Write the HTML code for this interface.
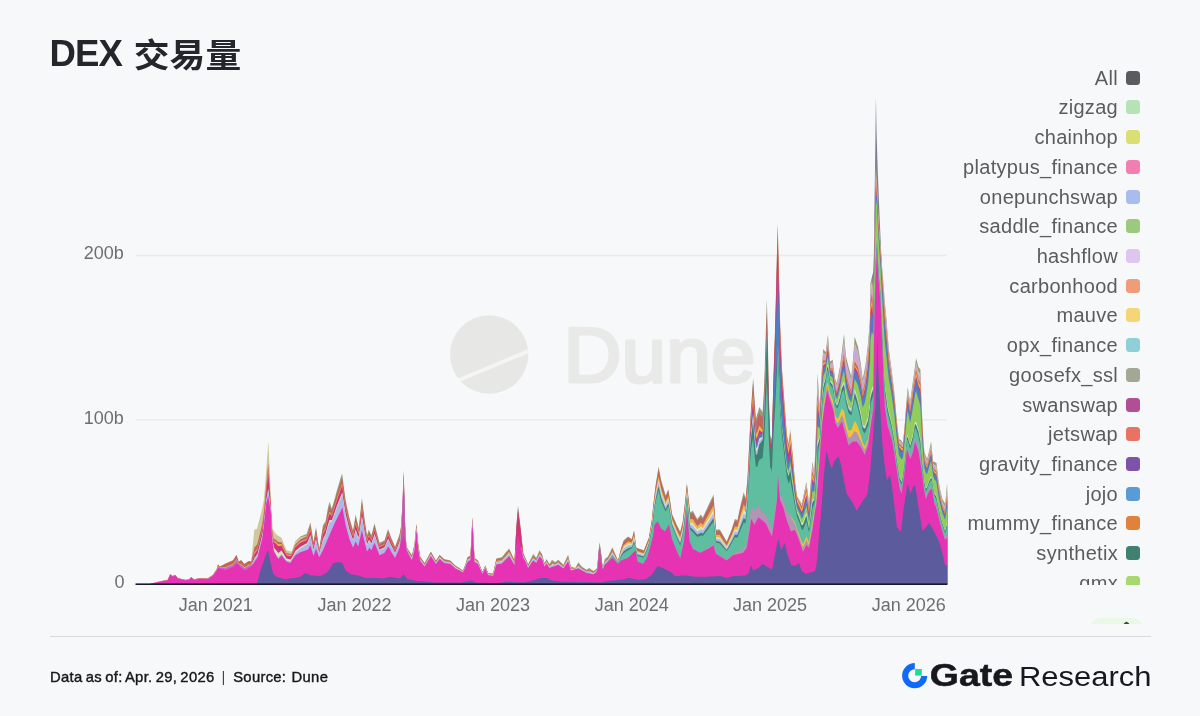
<!DOCTYPE html>
<html lang="zh"><head><meta charset="utf-8"><title>DEX 交易量</title>
<style>
html,body{margin:0;padding:0}
body{width:1200px;height:716px;background:#F7F8FA;position:relative;overflow:hidden;font-family:"Liberation Sans","Noto Sans CJK SC",sans-serif}
.title{position:absolute;left:0;top:0;font-weight:700;color:#24262B;white-space:nowrap}
.tl{position:absolute;left:49.6px;top:33.9px;font-size:36.6px;line-height:40px;letter-spacing:-0.9px}
.tc{position:absolute;left:133.8px;top:34.5px;font-size:35.8px;line-height:40px;letter-spacing:0;display:block;transform:scaleY(0.925);transform-origin:0 35.5px}
svg.chart{position:absolute;left:0;top:0}
.ax{font-family:"Liberation Sans",sans-serif;font-size:18px;fill:#6E6E6E}
.legend{position:absolute;left:940px;top:0;width:220px;height:584.5px;overflow:hidden}
.lg{position:absolute;right:20px;height:30px;line-height:30px;white-space:nowrap;display:flex;align-items:center}
.lt{font-size:20px;color:#5C5C5E;letter-spacing:0.3px}
.sq{display:inline-block;width:14px;height:14px;border-radius:3.5px;margin-left:8px}
.sep{position:absolute;left:50px;top:636.2px;width:1100.5px;height:1.2px;background:#D9DADC}
.foot{position:absolute;top:666.5px;font-size:14.8px;line-height:20px;color:#17181A;white-space:pre;-webkit-text-stroke:0.4px #17181A;letter-spacing:0.3px;word-spacing:-1.2px}
.foot.bar{color:#444;-webkit-text-stroke:0}
.pill{position:absolute;left:1087.5px;top:618.4px;width:57.5px;height:6px;overflow:hidden}
.pill i{position:absolute;left:0;top:0;width:57.5px;height:30px;border-radius:14px;background:#EAF8E6;display:block}
.pill b{position:absolute;left:36.5px;top:3.6px;width:5px;height:5px;border-radius:2px;background:#3A4A3A;display:block;transform:rotate(45deg)}
</style></head><body>
<div class="title"><span class="tl">DEX </span><span class="tc">交易量</span></div>
<svg class="chart" width="1200" height="716" viewBox="0 0 1200 716">
<g>
<defs><clipPath id="dc"><circle cx="489.2" cy="354.5" r="39.4"/></clipPath></defs>
<circle cx="489.2" cy="354.5" r="39.2" fill="#E7E7E6"/>
<line x1="450" y1="383.7" x2="535" y2="348.4" stroke="#F5F5F6" stroke-width="3.8" clip-path="url(#dc)"/>
<text x="563.5" y="382" font-family="Liberation Sans, sans-serif" font-size="77" fill="#E9E9E8" stroke="#E9E9E8" stroke-width="3" stroke-linejoin="round" textLength="192" lengthAdjust="spacingAndGlyphs">Dune</text>
</g>
<rect x="136" y="254.7" width="811" height="1.6" fill="#EAEBEC"/>
<rect x="136" y="419.0" width="811" height="1.6" fill="#EAEBEC"/>
<text x="123.8" y="259" text-anchor="end" class="ax">200b</text>
<text x="123.8" y="423.8" text-anchor="end" class="ax">100b</text>
<text x="124.5" y="588.3" text-anchor="end" class="ax">0</text>
<text x="215.8" y="611" text-anchor="middle" class="ax">Jan 2021</text>
<text x="354.5" y="611" text-anchor="middle" class="ax">Jan 2022</text>
<text x="493" y="611" text-anchor="middle" class="ax">Jan 2023</text>
<text x="631.7" y="611" text-anchor="middle" class="ax">Jan 2024</text>
<text x="770" y="611" text-anchor="middle" class="ax">Jan 2025</text>
<text x="908.7" y="611" text-anchor="middle" class="ax">Jan 2026</text>
<g shape-rendering="geometricPrecision">
<path d="M872.0,584.2 L872.0,276.7 L872.1,276.3 L873.2,272.0 L873.5,264.7 L873.9,255.0 L874.0,245.0 L874.1,235.0 L874.3,215.0 L874.6,195.7 L875.0,170.0 L875.5,130.0 L875.9,96.7 L876.0,102.3 L876.5,130.0 L877.0,146.7 L877.3,156.7 L877.7,170.0 L878.3,185.0 L878.4,187.5 L878.5,190.0 L879.5,215.0 L880.2,230.6 L880.6,239.4 L881.3,255.0 L882.0,264.9 L882.0,584.2Z" fill="#827C92"/>
<path d="M295.0,584.2 L295.0,542.3 L295.3,541.5 L300.3,536.5 L305.4,534.5 L306.6,534.0 L307.9,530.1 L310.0,523.8 L310.4,522.6 L313.5,541.5 L316.0,527.0 L319.2,549.0 L320.4,541.5 L323.0,525.1 L325.5,521.4 L326.7,514.7 L328.0,507.5 L329.2,502.9 L329.5,501.7 L330.5,504.7 L331.8,508.5 L333.0,504.4 L334.3,500.0 L335.5,495.6 L337.0,490.0 L338.0,486.7 L340.0,480.0 L340.6,478.1 L342.1,473.4 L342.4,475.7 L344.0,488.0 L345.6,500.0 L349.4,517.6 L350.6,521.7 L353.1,530.2 L355.6,514.5 L358.2,525.2 L358.8,527.7 L361.9,497.9 L364.5,518.0 L365.1,522.6 L365.7,526.6 L367.0,535.2 L368.9,529.5 L369.5,530.9 L371.4,535.2 L374.5,523.3 L375.8,528.4 L379.5,542.8 L383.3,540.9 L384.6,540.2 L388.0,528.9 L388.3,529.7 L390.0,534.2 L391.3,537.7 L395.1,546.5 L399.5,534.6 L400.0,531.9 L401.3,525.0 L402.0,511.5 L402.0,584.2Z M405.0,584.2 L405.0,520.0 L405.1,525.0 L405.5,531.6 L406.4,546.5 L407.6,548.4 L410.0,552.2 L412.0,555.3 L414.5,544.0 L416.4,523.3 L417.7,537.5 L418.3,544.0 L420.2,556.6 L424.6,562.9 L430.9,551.6 L435.3,559.3 L435.9,560.4 L439.7,554.7 L444.1,559.1 L450.4,560.4 L455.4,565.4 L460.4,568.7 L463.0,570.4 L465.5,564.1 L467.4,557.2 L470.5,555.3 L471.8,528.9 L472.4,516.7 L474.5,557.8 L476.8,559.5 L478.0,560.4 L482.4,571.7 L485.3,565.4 L488.1,572.9 L493.1,573.6 L496.3,558.5 L498.2,558.1 L501.9,557.2 L505.7,552.6 L509.2,548.4 L514.0,559.3 L514.5,560.4 L516.4,525.0 L518.0,505.4 L520.8,529.0 L523.3,552.8 L525.0,556.6 L528.1,564.1 L532.5,555.5 L533.2,554.1 L536.3,557.8 L539.5,550.3 L540.1,551.2 L542.0,554.0 L544.5,562.9 L546.4,559.5 L546.6,559.1 L549.5,564.1 L551.4,560.8 L552.0,559.7 L555.2,562.2 L558.3,559.7 L562.7,564.1 L563.4,564.8 L568.1,554.7 L570.9,566.6 L575.3,567.9 L578.4,562.2 L581.6,566.6 L586.6,569.8 L589.1,567.9 L593.5,571.0 L596.0,569.0 L597.3,567.9 L598.0,558.4 L598.6,550.3 L599.6,542.1 L600.4,547.8 L601.1,552.8 L601.5,556.6 L602.7,567.9 L604.0,562.5 L604.8,559.1 L608.0,556.6 L610.5,551.3 L612.4,547.2 L618.0,560.4 L620.0,552.5 L620.6,550.2 L621.2,547.8 L623.7,540.2 L628.1,536.5 L629.4,537.4 L631.9,539.0 L633.1,534.0 L634.0,530.2 L635.6,542.4 L636.3,547.8 L637.5,548.1 L638.2,548.3 L638.8,548.4 L643.2,550.1 L643.8,550.3 L645.0,547.3 L646.3,544.0 L647.0,542.2 L648.8,537.7 L650.0,530.4 L651.3,522.5 L651.9,518.9 L653.2,505.0 L653.3,504.2 L654.4,495.0 L655.1,489.2 L655.7,484.2 L657.6,472.7 L658.0,470.2 L658.6,466.6 L661.3,480.4 L663.9,489.3 L665.1,493.4 L665.7,495.5 L668.3,489.2 L668.9,493.0 L670.1,500.6 L670.8,505.0 L672.0,513.8 L675.2,521.1 L676.4,523.9 L680.2,531.4 L682.7,521.4 L684.0,510.3 L685.2,500.0 L686.9,482.9 L687.1,484.7 L688.8,500.0 L689.6,506.7 L690.0,510.1 L690.3,512.6 L692.8,510.7 L695.3,515.4 L697.2,518.9 L700.3,515.3 L701.0,514.5 L702.8,517.6 L707.9,506.4 L709.1,503.8 L712.9,496.0 L713.5,494.2 L714.8,512.6 L716.0,529.5 L719.8,529.5 L720.4,530.5 L726.7,541.5 L731.8,528.9 L733.0,525.0 L734.9,518.9 L737.4,520.1 L740.6,505.0 L743.1,494.8 L743.7,492.3 L745.0,496.2 L745.6,498.0 L746.8,485.3 L747.5,477.9 L748.7,454.0 L749.4,440.1 L750.0,427.6 L750.6,415.0 L751.0,409.0 L751.2,406.1 L753.1,377.8 L754.4,396.8 L755.9,418.8 L757.5,413.3 L758.2,410.9 L759.3,407.1 L761.9,411.0 L762.6,412.0 L764.3,383.6 L765.7,335.3 L766.0,325.0 L766.8,298.8 L767.6,325.0 L768.8,392.0 L769.5,413.8 L770.2,435.6 L771.0,437.2 L771.8,438.9 L772.0,431.4 L773.5,375.0 L774.5,345.6 L775.1,327.9 L775.2,325.0 L777.0,252.4 L777.7,224.2 L777.7,584.2Z M800.0,584.2 L800.0,500.8 L801.7,504.0 L803.0,497.9 L805.7,485.1 L806.4,481.8 L809.0,503.2 L809.1,504.0 L812.4,461.6 L814.4,472.4 L815.0,456.3 L815.1,453.6 L815.8,434.8 L816.0,428.3 L816.5,412.0 L817.1,389.0 L817.5,373.7 L819.1,397.0 L819.8,407.2 L821.8,369.6 L822.0,366.6 L823.2,348.9 L823.8,349.7 L824.0,350.0 L825.6,352.2 L826.5,345.4 L827.1,340.9 L827.9,334.8 L829.2,350.6 L830.0,360.4 L830.1,361.6 L831.9,360.2 L832.6,359.6 L833.8,368.6 L833.9,369.3 L835.2,379.0 L836.8,383.1 L837.9,377.4 L838.6,373.8 L839.9,367.0 L841.3,355.7 L841.9,350.9 L844.0,334.1 L845.3,348.5 L846.0,356.2 L846.6,358.7 L848.6,367.0 L851.3,376.4 L852.7,362.9 L854.7,336.8 L855.0,337.7 L856.7,342.9 L858.0,346.8 L860.7,362.9 L862.1,374.2 L862.7,379.0 L864.7,369.1 L865.4,365.6 L867.4,348.7 L868.1,342.8 L870.1,316.0 L870.4,283.0 L871.4,279.1 L872.0,276.7 L872.1,277.9 L873.2,291.1 L873.5,289.5 L873.9,276.6 L874.0,266.9 L874.1,259.5 L874.3,245.0 L874.6,231.8 L875.0,211.2 L875.5,180.8 L875.9,159.1 L876.0,162.6 L876.5,175.2 L877.0,181.3 L877.3,189.2 L877.7,199.8 L878.3,212.5 L878.4,214.6 L878.5,216.2 L879.5,230.9 L880.2,240.9 L880.6,247.0 L881.3,258.9 L882.0,264.9 L882.2,267.8 L882.4,270.6 L883.3,281.7 L883.9,289.6 L884.2,293.5 L884.9,302.7 L885.0,304.0 L886.6,320.0 L886.9,324.3 L887.3,330.0 L887.5,332.4 L888.9,349.5 L890.2,359.2 L891.6,369.6 L892.2,374.6 L894.2,391.1 L896.9,421.4 L898.9,438.8 L899.6,439.3 L900.0,439.5 L901.0,440.2 L901.6,441.0 L903.0,442.9 L904.3,428.9 L905.0,421.4 L905.6,412.0 L907.0,395.4 L907.7,387.1 L910.1,401.8 L910.3,400.3 L913.0,380.4 L915.0,366.1 L916.1,358.2 L917.7,364.3 L918.4,367.0 L920.4,369.6 L921.7,408.0 L922.4,421.4 L923.1,434.8 L923.8,444.2 L924.4,452.3 L925.8,455.8 L926.4,457.3 L927.1,459.0 L929.1,450.9 L931.1,441.5 L931.8,448.5 L933.1,461.6 L934.5,462.1 L935.2,462.3 L936.0,462.7 L936.5,463.0 L938.5,480.4 L939.2,484.2 L940.5,491.2 L941.0,493.2 L942.5,499.2 L945.0,503.6 L945.2,504.0 L947.0,484.4 L947.2,484.4 L947.2,584.2Z" fill="#9A9A7C"/>
<path d="M250.0,584.2 L250.0,561.1 L251.3,561.0 L251.9,554.0 L252.5,548.1 L253.0,543.2 L254.4,529.5 L256.9,528.9 L257.6,526.3 L260.1,517.0 L261.3,512.6 L262.0,509.2 L262.6,506.3 L263.9,500.0 L265.5,480.0 L266.4,468.0 L267.0,460.0 L267.9,447.1 L268.0,445.6 L268.3,441.3 L269.5,465.0 L270.1,480.0 L270.5,490.0 L270.8,496.0 L271.5,510.0 L272.0,517.9 L272.7,528.9 L273.3,529.8 L273.9,530.7 L276.0,534.0 L276.4,534.6 L277.7,535.4 L278.3,535.8 L281.5,537.7 L285.2,547.0 L286.5,550.3 L290.3,551.3 L291.5,551.6 L295.0,542.3 L295.3,541.5 L300.3,537.2 L305.4,535.9 L306.6,535.6 L307.9,532.3 L310.0,526.7 L310.0,584.2Z M777.7,584.2 L777.7,224.2 L778.0,236.3 L778.3,248.4 L780.0,316.9 L780.2,325.0 L781.4,354.6 L781.9,366.9 L783.3,385.7 L784.4,400.4 L784.6,403.1 L786.9,433.9 L787.1,434.9 L787.7,437.9 L788.6,442.3 L790.0,430.5 L790.3,428.0 L790.9,434.4 L791.5,440.8 L791.9,445.0 L792.7,452.7 L795.0,480.4 L797.0,495.2 L799.0,498.9 L800.0,500.8 L801.7,504.2 L803.0,498.4 L805.7,486.2 L806.4,483.1 L809.0,504.4 L809.1,505.2 L812.4,464.3 L814.4,474.4 L815.0,458.9 L815.1,456.3 L815.8,438.4 L816.0,432.2 L816.5,416.6 L817.1,394.4 L817.5,379.6 L819.1,400.6 L819.8,409.8 L821.8,372.8 L822.0,369.8 L823.2,352.6 L823.8,353.1 L824.0,353.3 L825.6,354.9 L826.5,348.1 L827.1,343.7 L827.9,338.1 L829.2,353.4 L830.0,362.7 L830.1,363.9 L831.9,362.9 L832.6,362.5 L833.8,371.1 L833.9,371.9 L835.2,381.6 L836.8,385.6 L837.9,380.4 L838.6,376.9 L839.9,370.4 L841.3,359.7 L841.9,355.0 L844.0,339.7 L845.3,353.5 L846.0,360.9 L846.6,363.4 L848.6,371.6 L851.3,380.3 L852.7,367.5 L854.7,343.0 L855.0,343.8 L856.7,348.4 L858.0,352.0 L860.7,367.0 L862.1,377.7 L862.7,382.3 L864.7,372.7 L865.4,369.2 L867.4,352.4 L868.1,346.6 L870.1,319.8 L870.4,287.8 L871.4,283.5 L872.0,280.9 L872.1,282.3 L873.2,296.5 L873.5,295.5 L873.9,281.0 L874.0,271.2 L874.1,264.1 L874.3,250.4 L874.6,237.8 L875.0,217.7 L875.5,188.3 L875.9,167.8 L876.0,171.0 L876.5,181.7 L877.0,186.4 L877.3,194.2 L877.7,204.5 L878.3,217.1 L878.4,219.2 L878.5,220.7 L879.5,234.3 L880.2,243.6 L880.6,249.4 L881.3,261.2 L882.0,267.2 L882.2,270.1 L882.4,273.0 L883.3,284.5 L883.9,292.6 L884.2,296.6 L884.9,305.8 L885.0,307.1 L886.6,323.0 L886.9,327.2 L887.3,332.8 L887.5,335.2 L888.9,351.9 L890.2,361.4 L891.6,371.7 L892.2,376.6 L894.2,392.9 L896.9,422.9 L898.9,440.2 L899.6,440.7 L900.0,441.0 L901.0,441.8 L901.6,442.7 L903.0,444.3 L904.3,430.5 L905.0,423.1 L905.6,413.8 L907.0,397.4 L907.7,389.6 L910.1,404.1 L910.3,402.7 L913.0,383.5 L915.0,369.5 L916.1,362.3 L917.7,368.4 L918.4,371.2 L920.4,374.4 L921.7,411.3 L922.4,424.4 L923.1,437.4 L923.8,446.7 L924.4,454.5 L925.8,458.3 L926.4,459.6 L927.1,461.2 L929.1,453.4 L931.1,444.5 L931.8,451.1 L933.1,463.8 L934.5,464.9 L935.2,465.2 L936.0,465.7 L936.5,466.2 L938.5,483.0 L939.2,486.7 L940.5,493.7 L941.0,495.7 L942.5,501.7 L945.0,506.5 L945.2,506.8 L947.0,488.7 L947.2,488.7 L947.2,584.2Z" fill="#D0C89C"/>
<path d="M800.0,584.2 L800.0,502.8 L801.7,506.3 L803.0,500.8 L805.7,488.8 L806.4,485.6 L809.0,506.1 L809.1,506.9 L812.4,466.6 L814.4,475.8 L815.0,460.6 L815.1,458.1 L815.8,440.6 L816.0,434.6 L816.5,419.4 L817.1,397.5 L817.5,383.0 L819.1,402.6 L819.8,411.2 L821.8,374.3 L822.0,371.4 L823.2,354.2 L823.8,354.6 L824.0,354.7 L825.6,356.0 L826.5,349.2 L827.1,344.7 L827.9,339.4 L829.2,354.3 L830.0,363.5 L830.1,364.6 L831.9,363.8 L832.6,363.4 L833.8,372.0 L833.9,372.7 L835.2,382.4 L836.8,386.5 L837.9,381.4 L838.6,377.9 L839.9,371.5 L841.3,361.0 L841.9,356.4 L844.0,341.5 L845.3,355.1 L846.0,362.5 L846.6,364.9 L848.6,373.2 L851.3,381.6 L852.7,369.1 L854.7,345.0 L855.0,345.8 L856.7,350.4 L858.0,354.1 L860.7,369.0 L862.1,379.5 L862.7,384.0 L864.7,374.9 L865.4,371.5 L867.4,355.1 L868.1,349.4 L870.1,323.1 L870.4,292.0 L871.4,287.7 L872.0,285.2 L872.1,286.4 L873.2,300.0 L873.5,298.9 L873.9,283.3 L874.0,273.4 L874.1,266.3 L874.3,252.8 L874.6,240.2 L875.0,220.3 L875.5,191.3 L875.9,171.3 L876.0,174.4 L876.5,184.3 L877.0,188.5 L877.3,196.2 L877.7,206.4 L878.3,218.9 L878.4,221.0 L878.5,222.5 L879.5,236.0 L880.2,245.4 L880.6,251.1 L881.3,263.1 L882.0,269.4 L882.2,272.4 L882.4,275.4 L883.3,287.2 L883.9,295.5 L884.2,299.5 L884.9,308.8 L885.0,310.1 L886.6,325.7 L886.9,329.8 L887.3,335.4 L887.5,337.7 L888.9,354.0 L890.2,363.3 L891.6,373.4 L892.2,378.2 L894.2,394.4 L896.9,424.0 L898.9,441.1 L899.6,441.7 L900.0,442.0 L901.0,442.9 L901.6,443.8 L903.0,445.1 L904.3,431.5 L905.0,424.1 L905.6,415.0 L907.0,398.7 L907.7,391.1 L910.1,405.5 L910.3,404.2 L913.0,385.4 L915.0,371.5 L916.1,364.6 L917.7,370.8 L918.4,373.5 L920.4,377.1 L921.7,413.2 L922.4,426.0 L923.1,438.8 L923.8,448.0 L924.4,455.7 L925.8,459.6 L926.4,460.9 L927.1,462.3 L929.1,454.7 L931.1,446.1 L931.8,452.4 L933.1,465.0 L934.5,466.3 L935.2,466.7 L936.0,467.3 L936.5,467.8 L938.5,484.3 L939.2,488.0 L940.5,494.9 L941.0,496.9 L942.5,502.9 L945.0,507.9 L945.2,508.2 L947.0,490.8 L947.2,490.8 L947.2,584.2Z" fill="#C3A8E0"/>
<path d="M800.0,584.2 L800.0,502.8 L801.7,506.5 L803.0,501.2 L805.7,489.6 L806.4,486.7 L809.0,507.1 L809.1,507.9 L812.4,468.7 L814.4,477.3 L815.0,462.7 L815.1,460.3 L815.8,443.5 L816.0,437.7 L816.5,423.1 L817.1,401.9 L817.5,387.7 L819.1,405.5 L819.8,413.3 L821.8,376.9 L822.0,374.0 L823.2,357.3 L823.8,357.4 L824.0,357.5 L825.6,358.2 L826.5,351.5 L827.1,347.1 L827.9,342.1 L829.2,356.6 L830.0,365.4 L830.1,366.5 L831.9,366.2 L832.6,366.1 L833.8,374.5 L833.9,375.2 L835.2,385.1 L836.8,389.2 L837.9,384.8 L838.6,381.6 L839.9,375.7 L841.3,366.0 L841.9,361.9 L844.0,349.3 L845.3,362.4 L846.0,369.4 L846.6,371.9 L848.6,380.5 L851.3,388.2 L852.7,377.1 L854.7,356.2 L855.0,357.0 L856.7,360.3 L858.0,363.1 L860.7,375.8 L862.1,385.2 L862.7,389.3 L864.7,380.3 L865.4,376.7 L867.4,360.2 L868.1,354.3 L870.1,327.6 L870.4,297.4 L871.4,292.4 L872.0,289.4 L872.1,290.6 L873.2,303.5 L873.5,302.4 L873.9,285.5 L874.0,275.5 L874.1,268.6 L874.3,255.2 L874.6,242.6 L875.0,222.9 L875.5,194.3 L875.9,174.8 L876.0,177.7 L876.5,186.9 L877.0,190.6 L877.3,198.1 L877.7,208.3 L878.3,220.7 L878.4,222.8 L878.5,224.3 L879.5,237.8 L880.2,247.1 L880.6,252.8 L881.3,264.9 L882.0,271.7 L882.2,274.7 L882.4,277.8 L883.3,289.9 L883.9,298.4 L884.2,302.5 L884.9,311.8 L885.0,313.1 L886.6,328.4 L886.9,332.5 L887.3,337.9 L887.5,340.2 L888.9,356.1 L890.2,365.2 L891.6,375.1 L892.2,379.9 L894.2,395.8 L896.9,425.0 L898.9,442.0 L899.6,442.7 L900.0,443.0 L901.0,443.9 L901.6,444.9 L903.0,446.0 L904.3,432.5 L905.0,425.1 L905.6,416.1 L907.0,399.9 L907.7,392.6 L910.1,406.9 L910.3,405.6 L913.0,387.2 L915.0,373.5 L916.1,366.9 L917.7,373.1 L918.4,375.8 L920.4,379.8 L921.7,415.0 L922.4,427.6 L923.1,440.3 L923.8,449.3 L924.4,456.9 L925.8,461.0 L926.4,462.1 L927.1,463.5 L929.1,456.0 L931.1,447.7 L931.8,453.8 L933.1,466.2 L934.5,467.8 L935.2,468.2 L936.0,468.9 L936.5,469.4 L938.5,485.6 L939.2,489.3 L940.5,496.2 L941.0,498.2 L942.5,504.1 L945.0,509.3 L945.2,509.6 L947.0,493.0 L947.2,493.0 L947.2,584.2Z" fill="#E2A79F"/>
<path d="M149.0,584.2 L149.0,584.2 L152.6,583.2 L156.0,582.2 L161.4,581.0 L167.7,579.8 L170.2,574.1 L172.7,576.0 L175.2,574.8 L177.8,577.9 L185.3,579.8 L189.1,579.2 L191.3,576.9 L194.1,579.4 L199.1,577.9 L207.9,578.2 L212.9,574.8 L216.0,570.1 L216.7,569.1 L218.0,564.3 L219.9,566.6 L225.5,563.5 L233.0,560.3 L236.6,554.7 L238.7,561.6 L241.2,560.0 L244.4,564.0 L245.0,563.6 L248.1,561.3 L250.0,561.1 L251.3,562.2 L251.9,558.1 L252.5,556.0 L253.0,555.0 L254.4,547.5 L256.9,544.8 L257.6,542.9 L260.1,532.8 L261.3,528.0 L262.0,524.8 L262.6,521.8 L263.9,512.3 L265.5,494.1 L266.4,483.3 L267.0,477.2 L267.9,467.4 L268.0,466.3 L268.3,463.6 L269.5,482.0 L270.1,492.6 L270.5,499.5 L270.8,503.8 L271.5,518.4 L272.0,527.8 L272.7,535.3 L273.3,537.2 L273.9,538.9 L276.0,539.7 L276.4,540.3 L277.7,541.4 L278.3,541.9 L281.5,542.2 L285.2,550.2 L286.5,553.0 L290.3,554.0 L291.5,553.8 L295.0,545.3 L295.3,544.5 L300.3,539.5 L305.4,537.0 L306.6,536.4 L307.9,532.9 L310.0,526.7 L310.4,525.6 L313.5,543.4 L316.0,529.8 L319.2,550.1 L320.4,543.2 L323.0,528.4 L325.5,524.4 L326.7,518.2 L328.0,511.5 L329.2,507.1 L329.5,506.0 L330.5,508.3 L331.8,511.3 L333.0,507.4 L334.3,503.1 L335.5,498.9 L337.0,493.7 L338.0,490.5 L340.0,484.2 L340.6,482.4 L342.1,477.9 L342.4,479.8 L344.0,491.7 L345.6,503.3 L349.4,520.4 L350.6,524.3 L353.1,532.5 L355.6,518.0 L358.2,528.0 L358.8,529.8 L361.9,502.1 L364.5,521.0 L365.1,525.4 L365.7,529.1 L367.0,537.3 L368.9,532.0 L369.5,533.1 L371.4,537.2 L374.5,525.8 L375.8,530.7 L379.5,544.4 L383.3,542.5 L384.6,541.8 L388.0,531.3 L388.3,531.9 L390.0,536.2 L391.3,539.6 L395.1,548.0 L399.5,536.3 L400.0,533.8 L401.3,525.8 L402.0,511.5 L402.6,500.0 L403.6,470.2 L404.6,500.0 L405.0,520.0 L405.1,525.1 L405.5,531.8 L406.4,546.8 L407.6,548.9 L410.0,553.0 L412.0,556.1 L414.5,545.0 L416.4,524.4 L417.7,538.5 L418.3,545.0 L420.2,557.3 L424.6,563.5 L430.9,552.3 L435.3,560.0 L435.9,561.0 L439.7,555.4 L444.1,559.8 L450.4,561.0 L455.4,565.9 L460.4,569.1 L463.0,570.8 L465.5,564.6 L467.4,558.0 L470.5,556.1 L471.8,529.8 L472.4,517.6 L474.5,558.5 L476.8,560.2 L478.0,561.0 L482.4,572.1 L485.3,565.8 L488.1,573.3 L493.1,574.0 L496.3,559.5 L498.2,559.1 L501.9,558.3 L505.7,553.8 L509.2,549.7 L514.0,560.1 L514.5,561.1 L516.4,527.0 L518.0,508.4 L520.8,530.7 L523.3,554.6 L525.0,557.9 L528.1,565.4 L532.5,557.5 L533.2,556.2 L536.3,559.5 L539.5,552.4 L540.1,553.2 L542.0,555.7 L544.5,564.2 L546.4,560.9 L546.6,560.6 L549.5,565.4 L551.4,563.0 L552.0,562.2 L555.2,563.5 L558.3,561.4 L562.7,565.4 L563.4,566.1 L568.1,557.0 L570.9,567.9 L575.3,568.4 L578.4,564.3 L581.6,567.8 L586.6,570.9 L589.1,569.8 L593.5,572.1 L596.0,570.2 L597.3,568.6 L598.0,559.4 L598.6,551.8 L599.6,543.9 L600.4,549.3 L601.1,554.0 L601.5,557.6 L602.7,568.4 L604.0,564.0 L604.8,561.0 L608.0,558.0 L610.5,553.1 L612.4,549.2 L618.0,560.7 L620.0,553.0 L620.6,550.7 L621.2,548.4 L623.7,541.2 L628.1,537.6 L629.4,538.3 L631.9,539.8 L633.1,534.9 L634.0,531.3 L635.6,542.8 L636.3,548.1 L637.5,548.8 L638.2,548.9 L638.8,549.1 L643.2,550.8 L643.8,550.9 L645.0,548.0 L646.3,544.7 L647.0,543.0 L648.8,538.4 L650.0,531.3 L651.3,523.6 L651.9,520.0 L653.2,506.5 L653.3,505.7 L654.4,496.5 L655.1,490.9 L655.7,486.2 L657.6,475.1 L658.0,472.8 L658.6,469.5 L661.3,482.9 L663.9,491.5 L665.1,495.4 L665.7,497.3 L668.3,491.1 L668.9,494.7 L670.1,502.2 L670.8,506.5 L672.0,515.2 L675.2,522.6 L676.4,525.4 L680.2,532.9 L682.7,522.9 L684.0,512.1 L685.2,501.7 L686.9,484.6 L687.1,486.2 L688.8,501.9 L689.6,508.8 L690.0,512.0 L690.3,514.4 L692.8,513.0 L695.3,517.4 L697.2,520.8 L700.3,517.5 L701.0,516.7 L702.8,519.6 L707.9,508.8 L709.1,506.3 L712.9,498.8 L713.5,497.0 L714.8,514.7 L716.0,530.9 L719.8,531.0 L720.4,532.0 L726.7,542.5 L731.8,530.3 L733.0,526.6 L734.9,520.8 L737.4,521.9 L740.6,507.5 L743.1,497.7 L743.7,495.3 L745.0,498.9 L745.6,500.4 L746.8,487.8 L747.5,480.2 L748.7,456.3 L749.4,442.3 L750.0,429.5 L750.6,417.4 L751.0,411.7 L751.2,408.9 L753.1,382.5 L754.4,401.7 L755.9,423.3 L757.5,418.6 L758.2,416.3 L759.3,412.9 L761.9,416.9 L762.6,418.0 L764.3,391.5 L765.7,346.4 L766.0,336.8 L766.8,312.4 L767.6,336.0 L768.8,398.3 L769.5,418.6 L770.2,439.1 L771.0,440.2 L771.8,441.5 L772.0,434.1 L773.5,377.8 L774.5,348.1 L775.1,330.1 L775.2,327.1 L777.0,253.2 L777.7,224.2 L778.0,236.5 L778.3,248.8 L780.0,318.3 L780.2,326.4 L781.4,356.4 L781.9,368.8 L783.3,387.9 L784.4,402.8 L784.6,405.5 L786.9,436.5 L787.1,437.5 L787.7,440.6 L788.6,445.2 L790.0,434.5 L790.3,432.1 L790.9,438.3 L791.5,444.5 L791.9,448.6 L792.7,456.0 L795.0,482.6 L797.0,497.0 L799.0,500.9 L800.0,502.8 L801.7,506.7 L803.0,501.7 L805.7,490.7 L806.4,487.9 L809.0,508.4 L809.1,509.1 L812.4,471.4 L814.4,479.3 L815.0,465.3 L815.1,463.0 L815.8,447.1 L816.0,441.6 L816.5,427.7 L817.1,407.2 L817.5,393.5 L819.1,409.0 L819.8,415.8 L821.8,379.8 L822.0,376.9 L823.2,360.6 L823.8,360.5 L824.0,360.4 L825.6,360.5 L826.5,353.9 L827.1,349.5 L827.9,345.0 L829.2,358.9 L830.0,367.4 L830.1,368.4 L831.9,368.5 L832.6,368.5 L833.8,376.6 L833.9,377.4 L835.2,387.3 L836.8,391.3 L837.9,387.3 L838.6,384.2 L839.9,378.5 L841.3,369.3 L841.9,365.3 L844.0,353.9 L845.3,366.5 L846.0,373.3 L846.6,375.8 L848.6,384.3 L851.3,391.5 L852.7,381.0 L854.7,361.4 L855.0,362.1 L856.7,364.9 L858.0,367.5 L860.7,379.4 L862.1,388.3 L862.7,392.2 L864.7,383.6 L865.4,380.0 L867.4,363.6 L868.1,357.9 L870.1,331.3 L870.4,302.1 L871.4,296.7 L872.0,293.6 L872.1,294.8 L873.2,307.0 L873.5,305.9 L873.9,287.7 L874.0,277.6 L874.1,270.8 L874.3,257.5 L874.6,245.0 L875.0,225.5 L875.5,197.3 L875.9,178.3 L876.0,181.1 L876.5,189.5 L877.0,192.6 L877.3,200.1 L877.7,210.2 L878.3,222.5 L878.4,224.6 L878.5,226.2 L879.5,239.6 L880.2,248.8 L880.6,254.5 L881.3,266.8 L882.0,273.9 L882.2,277.1 L882.4,280.2 L883.3,292.7 L883.9,301.5 L884.2,305.5 L884.9,315.0 L885.0,316.2 L886.6,331.4 L886.9,335.4 L887.3,340.7 L887.5,343.0 L888.9,358.5 L890.2,367.5 L891.6,377.2 L892.2,381.9 L894.2,397.6 L896.9,426.5 L898.9,443.4 L899.6,444.2 L900.0,444.5 L901.0,445.5 L901.6,446.5 L903.0,447.3 L904.3,434.0 L905.0,426.6 L905.6,417.7 L907.0,401.7 L907.7,394.7 L910.1,408.8 L910.3,407.6 L913.0,389.8 L915.0,376.3 L916.1,370.1 L917.7,376.3 L918.4,379.0 L920.4,383.4 L921.7,417.5 L922.4,429.8 L923.1,442.2 L923.8,451.1 L924.4,458.5 L925.8,462.7 L926.4,463.8 L927.1,465.0 L929.1,457.7 L931.1,449.7 L931.8,455.5 L933.1,467.7 L934.5,469.6 L935.2,470.1 L936.0,470.9 L936.5,471.5 L938.5,487.3 L939.2,491.0 L940.5,497.8 L941.0,499.8 L942.5,505.7 L945.0,511.1 L945.2,511.4 L947.0,495.6 L947.2,495.7 L947.2,584.2Z" fill="#BF6660"/>
<path d="M149.0,584.2 L149.0,584.2 L152.6,583.2 L156.0,582.3 L161.4,581.1 L167.7,579.9 L170.2,574.3 L172.7,576.2 L175.2,575.0 L177.8,578.1 L185.3,580.0 L189.1,579.4 L191.3,577.2 L194.1,579.6 L199.1,578.3 L207.9,578.7 L212.9,575.4 L216.0,571.1 L216.7,570.1 L218.0,566.3 L219.9,567.6 L225.5,566.9 L233.0,563.9 L236.6,559.1 L238.7,563.4 L241.2,564.0 L244.4,567.1 L245.0,567.2 L248.1,565.0 L250.0,564.3 L251.3,564.1 L251.9,561.5 L252.5,559.7 L253.0,558.2 L254.4,552.5 L256.9,549.6 L257.6,548.0 L260.1,538.0 L261.3,533.2 L262.0,530.1 L262.6,527.1 L263.9,516.5 L265.5,498.8 L266.4,488.3 L267.0,482.9 L267.9,474.0 L268.0,473.0 L268.3,470.6 L269.5,486.7 L270.1,495.8 L270.5,501.8 L270.8,505.6 L271.5,520.2 L272.0,529.8 L272.7,536.7 L273.3,539.0 L273.9,541.0 L276.0,541.8 L276.4,542.5 L277.7,543.7 L278.3,544.3 L281.5,544.1 L285.2,551.6 L286.5,554.3 L290.3,555.3 L291.5,554.9 L295.0,546.9 L295.3,546.2 L300.3,541.6 L305.4,539.5 L306.6,539.0 L307.9,536.1 L310.0,530.5 L310.4,529.4 L313.5,545.9 L316.0,533.4 L319.2,551.5 L320.4,545.5 L323.0,532.7 L325.5,528.3 L326.7,522.8 L328.0,516.8 L329.2,512.7 L329.5,511.7 L330.5,513.1 L331.8,514.9 L333.0,511.2 L334.3,507.2 L335.5,503.3 L337.0,498.5 L338.0,495.6 L340.0,489.7 L340.6,488.1 L342.1,483.8 L342.4,485.2 L344.0,496.5 L345.6,507.5 L349.4,524.0 L350.6,527.7 L353.1,535.5 L355.6,522.6 L358.2,531.6 L358.8,532.5 L361.9,507.6 L364.5,525.0 L365.1,529.0 L365.7,532.5 L367.0,540.1 L368.9,535.3 L369.5,535.9 L371.4,539.7 L374.5,529.1 L375.8,533.7 L379.5,546.5 L383.3,544.6 L384.6,544.0 L388.0,534.3 L388.3,534.7 L390.0,538.8 L391.3,542.0 L395.1,550.0 L399.5,538.6 L400.0,536.3 L401.3,527.3 L402.0,513.0 L402.0,584.2Z M405.0,584.2 L405.0,521.1 L405.1,526.0 L405.5,532.8 L406.4,547.3 L407.6,549.7 L410.0,554.3 L412.0,557.3 L414.5,546.5 L416.4,526.1 L417.7,540.1 L418.3,546.5 L420.2,558.4 L424.6,564.4 L430.9,553.4 L435.3,560.9 L435.9,561.9 L439.7,556.5 L444.1,560.7 L450.4,561.9 L455.4,566.7 L460.4,569.7 L463.0,571.3 L465.5,565.3 L467.4,559.2 L470.5,557.3 L471.8,531.0 L472.4,518.9 L474.5,559.6 L476.8,561.1 L478.0,561.9 L482.4,572.7 L485.3,566.5 L488.1,573.8 L493.1,574.6 L496.3,561.0 L498.2,560.6 L501.9,559.8 L505.7,555.5 L509.2,551.6 L514.0,561.3 L514.5,562.1 L516.4,529.0 L516.4,584.2Z M520.8,584.2 L520.8,532.4 L523.3,555.3 L525.0,558.5 L528.1,566.0 L532.5,558.4 L533.2,557.2 L536.3,560.3 L539.5,553.4 L540.1,554.1 L542.0,556.5 L544.5,564.7 L546.4,561.6 L546.6,561.3 L549.5,566.0 L551.4,563.9 L552.0,563.3 L555.2,564.1 L558.3,562.2 L562.7,566.0 L563.4,566.6 L568.1,558.1 L570.9,568.5 L575.3,568.6 L578.4,565.3 L581.6,568.4 L586.6,571.3 L589.1,570.6 L593.5,572.6 L596.0,570.7 L597.3,568.9 L598.0,559.9 L598.0,584.2Z M601.5,584.2 L601.5,558.0 L602.7,568.7 L604.0,564.6 L604.8,561.8 L608.0,558.9 L610.5,554.5 L612.4,551.1 L618.0,561.4 L620.0,554.8 L620.6,552.9 L621.2,550.9 L623.7,544.9 L628.1,541.5 L629.4,541.8 L631.9,542.5 L633.1,538.3 L634.0,535.1 L635.6,544.2 L636.3,549.3 L637.5,551.1 L638.2,551.3 L638.8,551.4 L643.2,553.0 L643.8,553.0 L645.0,550.2 L646.3,547.1 L647.0,545.4 L648.8,540.5 L650.0,533.9 L651.3,526.5 L651.9,523.1 L653.2,510.7 L653.3,510.0 L654.4,500.5 L655.1,495.5 L655.7,491.2 L657.6,481.0 L658.0,479.1 L658.6,476.3 L661.3,488.9 L663.9,496.7 L665.1,500.3 L665.7,501.8 L668.3,496.0 L668.9,498.9 L670.1,506.2 L670.8,510.4 L672.0,518.6 L675.2,526.3 L676.4,529.1 L680.2,536.9 L682.7,526.8 L684.0,516.8 L685.2,506.2 L686.9,489.2 L687.1,490.2 L688.8,506.9 L689.6,514.3 L690.0,517.2 L690.3,519.3 L692.8,519.1 L695.3,523.0 L697.2,525.9 L700.3,523.4 L701.0,522.7 L702.8,524.9 L707.9,515.5 L709.1,513.3 L712.9,506.5 L713.5,505.0 L714.8,520.5 L716.0,534.7 L719.8,535.1 L720.4,536.0 L726.7,545.4 L731.8,534.5 L733.0,531.2 L734.9,526.2 L737.4,527.0 L740.6,514.8 L743.1,506.4 L743.7,504.3 L745.0,507.0 L745.6,507.5 L746.8,494.9 L747.5,486.7 L748.7,462.5 L749.4,447.9 L750.0,434.5 L750.6,423.4 L751.0,418.3 L751.2,415.8 L753.1,393.9 L754.4,413.3 L755.9,434.2 L757.5,431.3 L758.2,428.9 L759.3,425.8 L761.9,429.0 L762.6,429.9 L764.3,406.1 L765.7,365.6 L766.0,357.0 L766.8,335.1 L766.8,584.2Z M777.7,584.2 L777.7,237.1 L778.0,248.4 L778.3,260.2 L780.0,326.8 L780.2,334.5 L781.4,362.9 L781.9,374.7 L783.3,392.9 L784.4,407.2 L784.6,409.8 L786.9,439.5 L787.1,440.5 L787.7,443.5 L788.6,447.9 L790.0,437.4 L790.3,435.2 L790.9,441.4 L791.5,447.4 L791.9,451.5 L792.7,458.7 L795.0,484.5 L797.0,498.7 L799.0,502.8 L800.0,504.9 L801.7,508.8 L803.0,504.2 L805.7,493.5 L806.4,490.8 L809.0,510.4 L809.1,511.0 L812.4,474.2 L814.4,481.1 L815.0,467.6 L815.1,465.4 L815.8,450.0 L816.0,444.7 L816.5,431.3 L817.1,411.3 L817.5,398.0 L819.1,411.7 L819.8,417.6 L821.8,381.9 L822.0,379.0 L823.2,362.9 L823.8,362.6 L824.0,362.5 L825.6,362.1 L826.5,355.5 L827.1,351.1 L827.9,346.8 L829.2,360.3 L830.0,368.5 L830.1,369.6 L831.9,369.8 L832.6,369.9 L833.8,377.9 L833.9,378.6 L835.2,388.6 L836.8,392.6 L837.9,388.8 L838.6,385.8 L839.9,380.2 L841.3,371.2 L841.9,367.4 L844.0,356.7 L845.3,369.0 L846.0,375.6 L846.6,378.2 L848.6,386.6 L851.3,393.4 L852.7,383.3 L854.7,364.4 L855.0,365.2 L856.7,367.9 L858.0,370.5 L860.7,382.2 L862.1,390.9 L862.7,394.6 L864.7,386.7 L865.4,383.1 L867.4,367.3 L868.1,361.7 L870.1,335.7 L870.4,307.8 L871.4,302.4 L872.0,299.3 L872.1,300.3 L873.2,311.9 L873.5,310.8 L873.9,291.0 L874.0,280.7 L874.1,274.0 L874.3,261.1 L874.6,248.6 L875.0,229.1 L875.5,200.8 L875.9,182.0 L876.0,184.4 L876.5,192.3 L877.0,195.1 L877.3,202.6 L877.7,212.7 L878.3,225.2 L878.4,227.3 L878.5,228.9 L879.5,242.1 L880.2,251.2 L880.6,256.8 L881.3,269.4 L882.0,276.9 L882.2,280.1 L882.4,283.4 L883.3,296.4 L883.9,305.4 L884.2,309.5 L884.9,319.0 L885.0,320.2 L886.6,335.1 L886.9,339.0 L887.3,344.2 L887.5,346.5 L888.9,361.5 L890.2,370.2 L891.6,379.6 L892.2,384.2 L894.2,399.6 L896.9,428.1 L898.9,444.8 L899.6,445.7 L900.0,446.0 L901.0,447.1 L901.6,448.1 L903.0,448.5 L904.3,435.4 L905.0,428.1 L905.6,419.3 L907.0,403.3 L907.7,396.6 L910.1,410.5 L910.3,409.4 L913.0,391.9 L915.0,378.5 L916.1,372.7 L917.7,378.8 L918.4,381.5 L920.4,386.2 L921.7,419.4 L922.4,431.5 L923.1,443.6 L923.8,452.4 L924.4,459.7 L925.8,464.0 L926.4,465.0 L927.1,466.2 L929.1,458.9 L931.1,451.2 L931.8,456.7 L933.1,468.7 L934.5,470.9 L935.2,471.4 L936.0,472.2 L936.5,472.9 L938.5,488.4 L939.2,492.1 L940.5,498.8 L941.0,500.8 L942.5,506.7 L945.0,512.2 L945.2,512.4 L947.0,497.2 L947.2,497.3 L947.2,584.2Z" fill="#F0B446"/>
<path d="M250.0,584.2 L250.0,565.0 L251.3,564.6 L251.9,562.3 L252.5,560.6 L253.0,559.1 L254.4,553.9 L256.9,550.8 L257.6,549.3 L260.1,539.2 L261.3,534.4 L262.0,531.4 L262.6,528.4 L263.9,517.5 L265.5,500.0 L266.4,489.7 L267.0,484.5 L267.9,476.0 L268.0,475.0 L268.3,472.8 L269.5,488.4 L270.1,497.1 L270.5,502.8 L270.8,506.4 L271.5,521.0 L272.0,530.8 L272.7,537.5 L273.3,540.0 L273.9,542.3 L276.0,543.5 L276.4,544.2 L277.7,545.5 L278.3,546.2 L281.5,545.5 L285.2,552.7 L286.5,555.2 L290.3,556.3 L291.5,555.6 L295.0,547.9 L295.3,547.3 L300.3,542.7 L305.4,540.4 L306.6,539.9 L307.9,537.2 L310.0,531.6 L310.4,530.5 L313.5,546.6 L316.0,534.5 L319.2,551.9 L320.4,546.2 L323.0,533.9 L325.5,529.4 L326.7,524.1 L328.0,518.3 L329.2,514.4 L329.5,513.4 L330.5,514.5 L331.8,515.9 L333.0,512.3 L334.3,508.4 L335.5,504.6 L337.0,500.0 L338.0,497.1 L340.0,491.4 L340.6,489.7 L342.1,485.6 L342.4,486.8 L344.0,497.9 L345.6,508.8 L349.4,525.1 L350.6,528.7 L353.1,536.4 L355.6,524.0 L358.2,532.7 L358.8,533.4 L361.9,509.2 L364.5,526.2 L365.1,530.1 L365.7,533.5 L367.0,540.9 L368.9,536.2 L369.5,536.8 L371.4,540.5 L374.5,530.1 L375.8,534.6 L379.5,547.2 L383.3,545.3 L384.6,544.6 L388.0,535.2 L388.3,535.6 L390.0,539.6 L391.3,542.7 L395.1,550.5 L399.5,539.3 L400.0,537.0 L401.3,527.6 L402.0,513.0 L402.6,501.9 L403.6,473.4 L404.6,502.0 L405.0,521.1 L405.1,526.1 L405.5,532.9 L406.4,547.5 L407.6,549.9 L410.0,554.6 L412.0,557.6 L414.5,547.0 L416.4,526.6 L417.7,540.6 L418.3,547.0 L420.2,558.8 L424.6,564.7 L430.9,553.8 L435.3,561.2 L435.9,562.2 L439.7,556.9 L444.1,561.1 L450.4,562.2 L455.4,567.0 L460.4,569.9 L463.0,571.5 L465.5,565.6 L467.4,559.6 L470.5,557.6 L471.8,531.4 L472.4,519.4 L474.5,559.9 L476.8,561.4 L478.0,562.2 L482.4,572.9 L485.3,566.7 L488.1,574.0 L493.1,574.8 L496.3,561.5 L498.2,561.1 L501.9,560.4 L505.7,556.1 L509.2,552.2 L514.0,561.7 L514.5,562.4 L516.4,529.0 L518.0,511.3 L520.8,532.4 L523.3,555.7 L525.0,558.7 L528.1,566.2 L532.5,558.7 L533.2,557.6 L536.3,560.6 L539.5,553.8 L540.1,554.5 L542.0,556.8 L544.5,564.9 L546.4,561.8 L546.6,561.5 L549.5,566.2 L551.4,564.3 L552.0,563.8 L555.2,564.3 L558.3,562.5 L562.7,566.2 L563.4,566.8 L568.1,558.5 L570.9,568.7 L575.3,568.7 L578.4,565.7 L581.6,568.6 L586.6,571.5 L589.1,570.9 L593.5,572.8 L596.0,570.9 L597.3,569.0 L598.0,559.9 L598.0,584.2Z M601.5,584.2 L601.5,558.0 L602.7,568.8 L604.0,564.9 L604.8,562.2 L608.0,559.2 L610.5,555.1 L612.4,551.9 L618.0,561.8 L620.0,555.8 L620.0,584.2Z M745.0,584.2 L745.0,511.3 L745.6,511.3 L746.8,498.8 L747.5,490.3 L748.7,466.0 L749.4,451.2 L750.0,437.5 L750.6,426.8 L751.0,422.0 L751.2,419.5 L753.1,399.5 L754.4,418.7 L755.9,438.9 L757.5,436.5 L758.2,433.9 L759.3,430.3 L761.9,431.9 L762.6,432.3 L764.3,408.0 L765.7,366.7 L766.0,357.9 L766.8,335.1 L767.6,353.5 L768.8,407.5 L769.5,425.1 L770.2,443.3 L771.0,443.1 L771.8,444.6 L772.0,437.5 L773.5,383.5 L774.5,355.1 L775.1,338.0 L775.2,335.1 L777.0,265.1 L777.7,237.1 L778.0,248.9 L778.3,261.1 L780.0,329.5 L780.2,337.3 L781.4,366.5 L781.9,378.5 L783.3,397.3 L784.4,412.0 L784.6,414.7 L786.9,444.7 L787.1,445.8 L787.7,449.0 L788.6,453.8 L790.0,445.3 L790.3,443.3 L790.9,449.1 L791.5,454.6 L791.9,458.3 L792.7,464.9 L795.0,488.4 L797.0,501.8 L799.0,506.0 L800.0,508.1 L801.7,512.1 L803.0,508.2 L805.7,497.8 L806.4,495.2 L809.0,513.4 L809.1,513.9 L812.4,478.6 L814.4,483.8 L815.0,471.0 L815.1,468.9 L815.8,454.4 L816.0,449.4 L816.5,436.7 L817.1,417.4 L817.5,404.5 L819.1,415.2 L819.8,420.1 L821.8,384.5 L822.0,381.5 L823.2,365.6 L823.8,364.9 L824.0,364.7 L825.6,363.6 L826.5,356.9 L827.1,352.5 L827.9,348.3 L829.2,361.3 L830.0,369.3 L830.1,370.3 L831.9,370.7 L832.6,370.9 L833.8,378.7 L833.9,379.5 L835.2,389.4 L836.8,393.4 L837.9,389.8 L838.6,386.8 L839.9,381.4 L841.3,372.5 L841.9,368.8 L844.0,358.6 L845.3,370.7 L846.0,377.2 L846.6,379.7 L848.6,388.2 L851.3,394.7 L852.7,384.8 L854.7,366.5 L855.0,367.2 L856.7,370.1 L858.0,372.8 L860.7,384.4 L862.1,393.0 L862.7,396.7 L864.7,389.3 L865.4,385.9 L867.4,370.7 L868.1,365.3 L870.1,340.1 L870.4,313.3 L871.4,308.0 L872.0,304.9 L872.1,305.8 L873.2,316.1 L873.5,314.9 L873.9,293.5 L874.0,283.0 L874.1,276.4 L874.3,263.6 L874.6,251.0 L875.0,231.7 L875.5,203.8 L875.9,185.5 L876.0,187.8 L876.5,194.9 L877.0,197.2 L877.3,204.6 L877.7,214.6 L878.3,227.0 L878.4,229.1 L878.5,230.7 L879.5,244.1 L880.2,253.3 L880.6,258.9 L881.3,271.8 L882.0,279.9 L882.2,283.3 L882.4,286.6 L883.3,300.1 L883.9,309.5 L884.2,313.6 L884.9,323.2 L885.0,324.4 L886.6,339.1 L886.9,342.9 L887.3,348.0 L887.5,350.2 L888.9,364.7 L890.2,373.2 L891.6,382.3 L892.2,386.9 L894.2,402.1 L896.9,430.1 L898.9,446.6 L899.6,447.7 L900.0,448.0 L901.0,449.2 L901.6,450.2 L903.0,450.2 L904.3,437.3 L905.0,430.0 L905.6,421.4 L907.0,405.6 L907.7,399.3 L910.1,412.9 L910.3,411.8 L913.0,395.0 L915.0,381.8 L916.1,376.4 L917.7,382.5 L918.4,385.2 L920.4,390.3 L921.7,422.2 L922.4,434.0 L923.1,445.7 L923.8,454.4 L924.4,461.4 L925.8,466.0 L926.4,466.9 L927.1,467.9 L929.1,460.7 L931.1,453.4 L931.8,458.6 L933.1,470.3 L934.5,472.9 L935.2,473.5 L936.0,474.3 L936.5,475.1 L938.5,490.2 L939.2,493.8 L940.5,500.4 L941.0,502.5 L942.5,508.3 L945.0,514.0 L945.2,514.2 L947.0,499.9 L947.2,499.9 L947.2,584.2Z" fill="#D2347C"/>
<path d="M745.0,584.2 L745.0,511.3 L745.6,511.8 L746.8,500.6 L747.5,493.0 L748.7,470.9 L749.4,457.6 L750.0,445.5 L750.6,435.1 L751.0,430.3 L751.2,427.8 L753.1,408.6 L754.4,425.9 L755.9,443.9 L757.5,440.8 L758.2,437.8 L759.3,433.9 L761.9,434.2 L762.6,434.3 L764.3,409.5 L765.7,367.6 L766.0,358.5 L766.8,335.1 L766.8,584.2Z M771.0,584.2 L771.0,448.9 L771.8,451.1 L772.0,444.8 L773.5,395.9 L774.5,370.9 L775.1,356.0 L775.2,353.5 L777.0,293.2 L777.7,268.2 L778.0,277.5 L778.3,288.6 L780.0,350.8 L780.2,357.7 L781.4,383.4 L781.9,394.0 L783.3,410.8 L784.4,424.1 L784.6,426.5 L786.9,453.8 L787.1,454.9 L787.7,457.9 L788.6,462.3 L790.0,455.2 L790.3,453.4 L790.9,458.4 L791.5,463.0 L791.9,466.0 L792.7,471.6 L795.0,492.1 L797.0,504.3 L799.0,508.1 L800.0,510.1 L801.7,514.2 L803.0,510.8 L805.7,500.8 L806.4,498.3 L809.0,515.6 L809.1,516.1 L812.4,482.0 L814.4,486.0 L815.0,473.8 L815.1,471.8 L815.8,458.0 L816.0,453.4 L816.5,441.3 L817.1,422.6 L817.5,410.2 L819.1,418.6 L819.8,422.4 L821.8,387.2 L822.0,384.2 L823.2,368.6 L823.8,367.6 L824.0,367.3 L825.6,365.6 L826.5,359.0 L827.1,354.5 L827.9,350.7 L829.2,363.1 L830.0,370.9 L830.1,371.9 L831.9,372.5 L832.6,372.7 L833.8,380.4 L833.9,381.1 L835.2,391.0 L836.8,395.0 L837.9,391.6 L838.6,388.7 L839.9,383.4 L841.3,374.9 L841.9,371.2 L844.0,361.8 L845.3,373.5 L846.0,379.8 L846.6,382.3 L848.6,390.7 L851.3,396.8 L852.7,387.2 L854.7,369.6 L855.0,370.3 L856.7,373.1 L858.0,375.8 L860.7,387.2 L862.1,395.5 L862.7,399.2 L864.7,392.4 L865.4,389.1 L867.4,374.4 L868.1,369.2 L870.1,344.5 L870.4,319.0 L871.4,313.6 L872.0,310.5 L872.1,311.4 L873.2,320.4 L873.5,318.9 L873.9,296.0 L874.0,285.3 L874.1,278.8 L874.3,266.1 L874.6,253.5 L875.0,234.3 L875.5,206.8 L875.9,189.0 L876.0,191.2 L876.5,197.5 L877.0,199.3 L877.3,206.6 L877.7,216.5 L878.3,228.9 L878.4,230.9 L878.5,232.6 L879.5,246.1 L880.2,255.3 L880.6,261.0 L881.3,274.2 L882.0,282.9 L882.2,286.3 L882.4,289.7 L883.3,303.7 L883.9,313.4 L884.2,317.6 L884.9,327.3 L885.0,328.4 L886.6,342.8 L886.9,346.5 L887.3,351.5 L887.5,353.6 L888.9,367.6 L890.2,375.8 L891.6,384.7 L892.2,389.2 L894.2,404.1 L896.9,431.7 L898.9,447.9 L899.6,449.2 L900.0,449.5 L901.0,450.7 L901.6,451.8 L903.0,451.4 L904.3,438.6 L905.0,431.4 L905.6,422.9 L907.0,407.2 L907.7,401.3 L910.1,414.6 L910.3,413.6 L913.0,397.2 L915.0,384.0 L916.1,379.0 L917.7,385.1 L918.4,387.7 L920.4,393.1 L921.7,424.1 L922.4,435.6 L923.1,447.2 L923.8,455.8 L924.4,462.6 L925.8,467.3 L926.4,468.1 L927.1,469.0 L929.1,461.9 L931.1,454.8 L931.8,459.8 L933.1,471.4 L934.5,474.1 L935.2,474.8 L936.0,475.6 L936.5,476.5 L938.5,491.3 L939.2,494.9 L940.5,501.4 L941.0,503.5 L942.5,509.3 L945.0,515.1 L945.2,515.3 L947.0,501.5 L947.2,501.6 L947.2,584.2Z" fill="#4F7FC2"/>
<path d="M777.7,584.2 L777.7,345.9 L778.0,348.1 L778.3,355.5 L780.0,398.2 L780.2,402.5 L781.4,418.2 L781.9,424.9 L783.3,435.2 L784.4,444.2 L784.6,445.8 L786.9,465.6 L787.1,466.3 L787.7,468.2 L788.6,471.0 L790.0,463.0 L790.3,461.6 L790.9,466.3 L791.5,470.4 L791.9,473.2 L792.7,478.2 L795.0,496.5 L797.0,508.0 L799.0,512.0 L800.0,514.2 L801.7,518.7 L803.0,516.5 L805.7,507.7 L806.4,505.5 L809.0,521.0 L809.1,521.3 L812.4,490.9 L814.4,491.9 L815.0,481.4 L815.1,479.8 L815.8,468.2 L816.0,464.3 L816.5,454.0 L817.1,437.2 L817.5,425.9 L819.1,427.8 L819.8,428.9 L821.8,394.5 L822.0,391.5 L823.2,376.6 L823.8,374.8 L824.0,374.3 L825.6,370.9 L826.5,364.2 L827.1,359.8 L827.9,356.8 L829.2,367.8 L830.0,374.8 L830.1,375.7 L831.9,376.9 L832.6,377.4 L833.8,384.6 L833.9,385.3 L835.2,395.2 L836.8,399.1 L837.9,396.4 L838.6,393.8 L839.9,388.8 L841.3,381.1 L841.9,377.8 L844.0,370.6 L845.3,381.4 L846.0,387.2 L846.6,389.6 L848.6,397.8 L851.3,402.7 L852.7,394.2 L854.7,378.8 L855.0,379.4 L856.7,382.4 L858.0,385.4 L860.7,396.3 L862.1,404.2 L862.7,407.5 L864.7,403.0 L865.4,400.1 L867.4,387.6 L868.1,383.2 L870.1,361.0 L870.4,340.0 L871.4,334.6 L872.0,331.6 L872.1,332.0 L873.2,335.3 L873.5,333.0 L873.9,304.3 L874.0,293.0 L874.1,286.6 L874.3,274.1 L874.6,260.7 L875.0,241.7 L875.5,214.9 L875.9,197.9 L876.0,199.5 L876.5,204.3 L877.0,204.9 L877.3,212.1 L877.7,221.9 L878.3,234.3 L878.4,236.4 L878.5,238.2 L879.5,252.8 L880.2,262.6 L880.6,268.4 L881.3,283.1 L882.0,294.2 L882.2,298.0 L882.4,301.7 L883.3,317.7 L883.9,328.5 L884.2,332.9 L884.9,343.1 L885.0,344.1 L886.6,357.7 L886.9,361.1 L887.3,365.6 L887.5,367.6 L888.9,379.7 L890.2,387.1 L891.6,395.1 L892.2,399.3 L894.2,413.3 L896.9,439.1 L898.9,454.7 L899.6,456.5 L900.0,457.0 L901.0,458.5 L901.6,459.6 L903.0,457.5 L904.3,445.4 L905.0,438.3 L905.6,430.3 L907.0,415.1 L907.7,410.6 L910.1,422.7 L910.3,422.0 L913.0,407.3 L915.0,394.6 L916.1,391.1 L917.7,396.8 L918.4,399.3 L920.4,406.0 L921.7,432.7 L922.4,443.2 L923.1,453.7 L923.8,461.7 L924.4,467.9 L925.8,473.1 L926.4,473.5 L927.1,473.9 L929.1,467.2 L931.1,461.0 L931.8,464.9 L933.1,475.8 L934.5,479.5 L935.2,480.3 L936.0,481.3 L936.5,482.3 L938.5,495.9 L939.2,499.3 L940.5,505.6 L941.0,507.7 L942.5,513.3 L945.0,519.5 L945.2,519.6 L947.0,508.0 L947.2,508.0 L947.2,584.2Z" fill="#92CC5C"/>
<path d="M250.0,584.2 L250.0,565.0 L251.3,564.9 L251.9,563.2 L252.5,562.4 L253.0,561.7 L254.4,558.0 L256.9,554.8 L257.6,553.6 L260.1,543.7 L261.3,538.9 L262.0,536.0 L262.6,533.6 L263.9,522.7 L265.5,507.6 L266.4,499.1 L267.0,495.9 L267.9,491.1 L268.0,490.5 L268.3,488.8 L269.5,498.6 L270.1,504.0 L270.5,507.7 L270.8,510.2 L271.5,524.7 L272.0,534.7 L272.7,540.5 L273.3,544.0 L273.9,547.5 L276.0,549.9 L276.4,550.5 L277.7,552.3 L278.3,553.1 L281.5,550.6 L285.2,556.4 L286.5,558.5 L290.3,559.6 L291.5,558.3 L295.0,551.7 L295.3,551.1 L300.3,546.7 L305.4,544.0 L306.6,543.4 L307.9,541.3 L310.0,536.0 L310.4,535.1 L313.5,549.5 L316.0,538.8 L319.2,553.5 L320.4,548.9 L323.0,539.0 L325.5,534.0 L326.7,529.5 L328.0,524.5 L329.2,520.9 L329.5,520.0 L330.5,520.1 L331.8,520.2 L333.0,516.9 L334.3,513.3 L335.5,509.8 L337.0,505.6 L338.0,503.0 L340.0,497.9 L340.6,496.4 L342.1,492.5 L342.4,493.2 L344.0,503.6 L345.6,513.8 L349.4,529.4 L350.6,532.8 L353.1,539.9 L355.6,529.4 L358.2,536.9 L358.8,536.6 L361.9,515.7 L364.5,530.9 L365.1,534.3 L365.7,537.5 L367.0,544.2 L368.9,540.1 L369.5,540.2 L371.4,543.5 L374.5,534.0 L375.8,538.1 L379.5,549.7 L383.3,547.8 L384.6,547.1 L388.0,538.9 L388.3,538.9 L390.0,542.7 L391.3,545.6 L395.1,552.8 L399.5,542.0 L400.0,539.9 L401.3,529.4 L402.0,514.4 L402.0,584.2Z M405.0,584.2 L405.0,522.2 L405.1,527.0 L405.5,533.6 L406.4,547.7 L407.6,550.2 L410.0,554.9 L412.0,557.9 L414.5,547.3 L416.4,527.0 L417.7,540.9 L418.3,547.3 L420.2,559.0 L424.6,564.9 L430.9,554.0 L435.3,561.4 L435.9,562.4 L439.7,557.1 L444.1,561.2 L450.4,562.4 L455.4,567.1 L460.4,570.0 L463.0,571.6 L465.5,565.7 L467.4,559.8 L470.5,557.9 L471.8,531.7 L472.4,519.6 L474.5,560.1 L476.8,561.6 L478.0,562.4 L482.4,573.0 L485.3,566.8 L488.1,574.1 L493.1,574.9 L496.3,561.8 L498.2,561.4 L501.9,560.7 L505.7,556.5 L509.2,552.6 L514.0,562.0 L514.5,563.4 L516.4,545.0 L516.4,584.2Z M520.8,584.2 L520.8,546.0 L523.3,555.9 L525.0,558.9 L528.1,566.4 L532.5,559.0 L533.2,557.9 L536.3,560.9 L539.5,554.1 L540.1,554.8 L542.0,557.1 L544.5,565.1 L546.4,562.1 L546.6,561.7 L549.5,566.4 L551.4,564.7 L552.0,564.1 L555.2,564.5 L558.3,562.8 L562.7,566.4 L563.4,567.0 L568.1,558.8 L570.9,568.9 L575.3,568.7 L578.4,566.0 L581.6,568.8 L586.6,571.7 L589.1,571.2 L593.5,572.9 L596.0,571.1 L597.3,569.1 L598.0,559.9 L598.0,584.2Z M601.5,584.2 L601.5,558.0 L602.7,568.8 L604.0,565.1 L604.8,562.4 L608.0,559.4 L610.5,555.4 L612.4,552.2 L618.0,561.8 L620.0,555.8 L620.6,554.0 L621.2,552.2 L623.7,546.8 L628.1,543.6 L629.4,543.6 L631.9,543.8 L633.1,540.0 L634.0,537.1 L635.6,544.9 L636.3,549.9 L637.5,552.3 L638.2,552.5 L638.8,552.6 L643.2,554.2 L643.8,554.1 L645.0,551.3 L646.3,548.3 L647.0,546.7 L648.8,541.7 L650.0,535.3 L651.3,528.1 L651.9,524.7 L653.2,513.0 L653.3,512.2 L654.4,502.6 L655.1,497.9 L655.7,493.8 L657.6,484.0 L658.0,482.2 L658.6,479.8 L661.3,492.0 L663.9,499.5 L665.1,502.9 L665.7,504.3 L668.3,498.6 L668.9,501.2 L670.1,508.4 L670.8,512.6 L672.0,520.6 L675.2,528.4 L676.4,531.3 L680.2,539.3 L682.7,529.2 L684.0,519.7 L685.2,509.0 L686.9,492.0 L687.1,492.6 L688.8,509.9 L689.6,517.8 L690.0,520.4 L690.3,522.4 L692.8,522.9 L695.3,526.4 L697.2,529.1 L700.3,527.0 L701.0,526.3 L702.8,528.1 L707.9,519.5 L709.1,517.4 L712.9,511.1 L713.5,509.7 L714.8,523.9 L716.0,536.9 L719.8,537.5 L720.4,538.3 L726.7,547.0 L731.8,536.8 L733.0,533.8 L734.9,529.2 L737.4,529.8 L740.6,518.7 L743.1,511.1 L743.7,509.1 L745.0,511.3 L745.6,512.0 L746.8,501.2 L747.5,493.9 L748.7,472.7 L749.4,460.0 L750.0,448.5 L750.6,438.6 L751.0,433.9 L751.2,431.6 L753.1,414.2 L754.4,431.3 L755.9,448.6 L757.5,446.1 L758.2,442.8 L759.3,438.4 L761.9,437.0 L762.6,436.8 L764.3,411.3 L765.7,368.7 L766.0,359.4 L766.8,335.1 L766.8,584.2Z M777.7,584.2 L777.7,345.9 L778.0,348.4 L778.3,356.0 L780.0,399.9 L780.2,404.3 L781.4,420.4 L781.9,427.3 L783.3,437.9 L784.4,447.2 L784.6,448.9 L786.9,468.8 L787.1,469.6 L787.7,471.6 L788.6,474.7 L790.0,468.0 L790.3,466.8 L790.9,471.5 L791.5,475.6 L791.9,478.2 L792.7,483.1 L795.0,500.1 L797.0,511.3 L799.0,515.8 L800.0,518.3 L801.7,523.1 L803.0,522.1 L805.7,514.5 L806.4,512.6 L809.0,526.4 L809.1,526.6 L812.4,499.8 L814.4,497.8 L815.0,489.1 L815.1,487.7 L815.8,478.4 L816.0,475.3 L816.5,466.8 L817.1,451.9 L817.5,441.9 L819.1,437.2 L819.8,435.6 L821.8,402.2 L822.0,399.2 L823.2,385.2 L823.8,382.7 L824.0,381.9 L825.6,376.9 L826.5,370.3 L827.1,365.8 L827.9,363.8 L829.2,373.4 L830.0,379.4 L830.1,380.2 L831.9,382.2 L832.6,383.1 L833.8,389.6 L833.9,390.3 L835.2,400.2 L836.8,403.9 L837.9,402.1 L838.6,399.7 L839.9,395.2 L841.3,388.4 L841.9,385.4 L844.0,380.7 L845.3,390.3 L846.0,395.6 L846.6,398.0 L848.6,405.9 L851.3,409.5 L852.7,402.1 L854.7,389.1 L855.0,389.6 L856.7,395.0 L858.0,400.0 L860.7,413.1 L862.1,421.1 L862.7,424.4 L864.7,426.2 L865.4,424.8 L867.4,419.0 L868.1,417.2 L870.1,403.1 L870.4,394.2 L871.4,390.1 L872.0,388.0 L872.1,387.8 L873.2,385.4 L873.5,383.7 L873.9,337.9 L874.0,325.2 L874.1,320.5 L874.3,311.3 L874.6,299.2 L875.0,282.5 L875.5,260.9 L875.9,250.7 L876.0,249.9 L876.5,243.9 L877.0,236.7 L877.3,243.0 L877.7,251.4 L878.3,263.3 L878.4,265.3 L878.5,267.2 L879.5,279.1 L880.2,287.4 L880.6,292.2 L881.3,308.8 L882.0,324.2 L882.2,329.0 L882.4,333.8 L883.3,354.8 L883.9,369.0 L884.2,373.8 L884.9,385.2 L885.0,386.0 L886.6,397.5 L886.9,399.9 L887.3,403.2 L887.5,404.7 L888.9,411.8 L890.2,417.1 L891.6,422.8 L892.2,426.2 L894.2,437.8 L896.9,458.9 L898.9,472.8 L899.6,476.2 L900.0,477.1 L901.0,479.2 L901.6,480.5 L903.0,473.7 L904.3,463.4 L905.0,456.5 L905.6,449.9 L907.0,435.8 L907.7,435.2 L910.1,443.9 L910.3,443.9 L913.0,433.7 L915.0,421.9 L916.1,422.1 L917.7,426.9 L918.4,428.9 L920.4,438.5 L921.7,454.4 L922.4,462.2 L923.1,470.0 L923.8,476.8 L924.4,481.2 L925.8,487.6 L926.4,486.9 L927.1,486.1 L929.1,480.4 L931.1,476.3 L931.8,477.7 L933.1,486.6 L934.5,492.6 L935.2,493.7 L936.0,494.9 L936.5,496.4 L938.5,507.0 L939.2,510.0 L940.5,515.7 L941.0,517.7 L942.5,522.8 L945.0,529.9 L945.2,529.8 L947.0,523.0 L947.2,523.0 L947.2,584.2Z" fill="#D6E6BE"/>
<path d="M250.0,584.2 L250.0,565.0 L251.3,564.9 L251.9,563.5 L252.5,562.8 L253.0,562.3 L254.4,559.0 L256.9,555.7 L257.6,554.5 L260.1,544.6 L261.3,539.8 L262.0,537.0 L262.6,534.5 L263.9,523.5 L265.5,508.6 L266.4,500.1 L267.0,497.1 L267.9,492.6 L268.0,492.1 L268.3,490.5 L269.5,500.1 L270.1,505.2 L270.5,508.5 L270.8,510.9 L271.5,525.5 L272.0,535.7 L272.7,541.6 L273.3,545.8 L273.9,550.0 L276.0,554.1 L276.4,554.8 L277.7,556.7 L278.3,557.7 L281.5,553.9 L285.2,558.7 L286.5,560.4 L290.3,561.4 L291.5,559.8 L295.0,553.7 L295.3,553.2 L300.3,548.6 L305.4,545.6 L306.6,544.8 L307.9,542.9 L310.0,537.6 L310.4,536.7 L313.5,550.5 L316.0,540.3 L319.2,554.1 L320.4,549.9 L323.0,540.7 L325.5,535.6 L326.7,531.3 L328.0,526.7 L329.2,523.2 L329.5,522.4 L330.5,522.0 L331.8,521.7 L333.0,518.5 L334.3,514.9 L335.5,511.6 L337.0,507.6 L338.0,505.1 L340.0,500.1 L340.6,498.7 L342.1,494.9 L342.4,495.4 L344.0,505.5 L345.6,515.6 L349.4,530.9 L350.6,534.2 L353.1,541.1 L355.6,531.2 L358.2,538.4 L358.8,537.7 L361.9,517.9 L364.5,532.6 L365.1,535.8 L365.7,538.8 L367.0,545.4 L368.9,541.4 L369.5,541.4 L371.4,544.6 L374.5,535.4 L375.8,539.3 L379.5,550.5 L383.3,548.7 L384.6,548.0 L388.0,540.1 L388.3,540.1 L390.0,543.8 L391.3,546.6 L395.1,553.6 L399.5,542.9 L400.0,540.9 L401.3,529.8 L402.0,514.4 L402.6,503.8 L403.6,476.7 L404.6,504.0 L405.0,522.2 L405.1,527.0 L405.5,533.8 L406.4,548.0 L407.6,550.6 L410.0,555.6 L412.0,558.6 L414.5,548.2 L416.4,528.0 L417.7,541.8 L418.3,548.2 L420.2,559.7 L424.6,565.4 L430.9,554.7 L435.3,561.9 L435.9,562.9 L439.7,557.7 L444.1,561.8 L450.4,562.9 L455.4,567.6 L460.4,570.4 L463.0,571.9 L465.5,566.1 L467.4,560.6 L470.5,558.6 L471.8,532.5 L472.4,520.4 L474.5,560.7 L476.8,562.2 L478.0,562.9 L482.4,573.3 L485.3,567.2 L488.1,574.4 L493.1,575.3 L496.3,562.7 L498.2,562.3 L501.9,561.6 L505.7,557.5 L509.2,553.7 L514.0,562.7 L514.5,563.9 L516.4,545.0 L516.4,584.2Z M520.8,584.2 L520.8,546.0 L523.3,556.7 L525.0,559.5 L528.1,567.0 L532.5,559.9 L533.2,558.8 L536.3,561.6 L539.5,555.0 L540.1,555.7 L542.0,557.8 L544.5,565.7 L546.4,562.7 L546.6,562.4 L549.5,567.0 L551.4,565.6 L552.0,565.2 L555.2,565.0 L558.3,563.5 L562.7,567.0 L563.4,567.6 L568.1,559.9 L570.9,569.5 L575.3,568.9 L578.4,566.9 L581.6,569.3 L586.6,572.1 L589.1,572.0 L593.5,573.4 L596.0,571.7 L597.3,569.3 L598.0,559.9 L598.6,552.5 L599.6,544.8 L600.4,550.0 L601.1,554.6 L601.5,558.0 L602.7,569.0 L604.0,565.8 L604.8,563.3 L608.0,560.1 L610.5,556.5 L612.4,553.5 L618.0,562.2 L620.0,556.7 L620.6,555.1 L621.2,553.4 L623.7,548.6 L628.1,545.5 L629.4,545.3 L631.9,545.1 L633.1,541.5 L634.0,538.9 L635.6,545.5 L636.3,550.4 L637.5,553.3 L638.2,553.5 L638.8,553.6 L643.2,555.2 L643.8,554.9 L645.0,552.2 L646.3,549.3 L647.0,547.7 L648.8,542.6 L650.0,536.3 L651.3,529.2 L651.9,526.0 L653.2,514.7 L653.3,514.0 L654.4,504.3 L655.1,499.8 L655.7,495.9 L657.6,486.5 L658.0,484.8 L658.6,482.6 L661.3,494.6 L663.9,501.8 L665.1,505.1 L665.7,506.3 L668.3,500.8 L668.9,503.1 L670.1,510.2 L670.8,514.3 L672.0,522.2 L675.2,530.1 L676.4,533.1 L680.2,541.2 L682.7,531.1 L684.0,522.1 L685.2,511.2 L686.9,494.2 L687.1,494.5 L688.8,512.4 L689.6,520.6 L690.0,523.0 L690.3,524.8 L692.8,525.9 L695.3,529.2 L697.2,531.6 L700.3,530.0 L701.0,529.3 L702.8,530.8 L707.9,522.8 L709.1,520.8 L712.9,514.8 L713.5,513.5 L714.8,526.7 L716.0,538.8 L719.8,539.5 L720.4,540.2 L726.7,548.4 L731.8,538.8 L733.0,536.0 L734.9,531.8 L737.4,532.3 L740.6,522.1 L743.1,515.2 L743.7,513.3 L745.0,515.1 L745.6,515.3 L746.8,504.5 L747.5,496.9 L748.7,475.4 L749.4,462.4 L750.0,450.5 L750.6,440.8 L751.0,436.3 L751.2,434.0 L753.1,417.7 L754.4,434.6 L755.9,451.5 L757.5,449.2 L758.2,445.7 L759.3,441.0 L761.9,438.8 L762.6,438.2 L764.3,412.5 L765.7,369.4 L766.0,359.9 L766.8,335.1 L766.8,584.2Z M816.0,584.2 L816.0,478.4 L816.5,470.5 L817.1,456.1 L817.5,446.4 L819.1,439.9 L819.8,437.4 L821.8,404.3 L822.0,401.3 L823.2,387.6 L823.8,384.8 L824.0,383.9 L825.6,378.4 L826.5,371.8 L827.1,367.4 L827.9,365.6 L829.2,374.8 L830.0,380.6 L830.1,381.3 L831.9,383.6 L832.6,384.4 L833.8,390.8 L833.9,391.5 L835.2,401.4 L836.8,405.1 L837.9,403.4 L838.6,401.0 L839.9,396.7 L841.3,390.0 L841.9,387.2 L844.0,382.9 L845.3,392.3 L846.0,397.4 L846.6,399.8 L848.6,407.6 L851.3,410.9 L852.7,403.7 L854.7,391.2 L855.0,391.6 L856.7,397.1 L858.0,402.0 L860.7,415.0 L862.1,422.9 L862.7,426.1 L864.7,428.4 L865.4,427.1 L867.4,421.7 L868.1,420.0 L870.1,406.4 L870.4,398.4 L871.4,394.3 L872.0,392.2 L872.0,584.2Z" fill="#AEB6EA"/>
<path d="M604.0,584.2 L604.0,566.9 L604.8,564.7 L608.0,561.3 L610.5,558.2 L612.4,555.6 L618.0,562.8 L620.0,558.1 L620.6,556.7 L621.2,555.3 L623.7,551.3 L628.1,548.2 L629.4,547.8 L631.9,546.9 L633.1,543.8 L634.0,541.4 L635.6,546.4 L636.3,551.1 L637.5,554.8 L638.2,555.0 L638.8,555.1 L643.2,556.5 L643.8,556.2 L645.0,553.5 L646.3,550.6 L647.0,549.1 L648.8,543.7 L650.0,537.7 L651.3,530.8 L651.9,527.6 L653.2,517.0 L653.3,516.3 L654.4,506.5 L655.1,502.4 L655.7,498.8 L657.6,489.9 L658.0,488.4 L658.6,486.6 L661.3,498.1 L663.9,504.8 L665.1,507.9 L665.7,508.9 L668.3,503.6 L668.9,505.5 L670.1,512.5 L670.8,516.5 L672.0,524.2 L675.2,532.2 L676.4,535.3 L680.2,543.5 L682.7,533.3 L684.0,524.8 L685.2,513.7 L686.9,496.8 L687.1,496.8 L688.8,515.2 L689.6,523.7 L690.0,525.9 L690.3,527.6 L692.8,529.4 L695.3,532.3 L697.2,534.5 L700.3,533.3 L701.0,532.6 L702.8,533.8 L707.9,526.5 L709.1,524.6 L712.9,519.1 L713.5,517.9 L714.8,529.9 L716.0,540.9 L719.8,541.7 L720.4,542.4 L726.7,550.0 L731.8,541.1 L733.0,538.4 L734.9,534.7 L737.4,535.1 L740.6,526.1 L743.1,519.8 L743.7,518.1 L745.0,519.4 L745.6,519.0 L746.8,508.1 L747.5,500.2 L748.7,478.3 L749.4,464.9 L750.0,452.5 L750.6,443.1 L751.0,438.8 L751.2,436.6 L753.1,421.8 L754.4,438.7 L755.9,455.2 L757.5,453.5 L758.2,449.7 L759.3,444.6 L761.9,441.1 L762.6,440.2 L764.3,414.0 L765.7,370.3 L766.0,360.6 L766.8,335.1 L767.6,355.8 L768.8,411.4 L769.5,429.6 L770.2,448.0 L771.0,448.9 L771.8,454.6 L772.0,449.5 L773.5,412.8 L774.5,398.1 L775.1,390.2 L775.2,389.0 L777.0,359.7 L777.7,345.9 L778.0,348.5 L778.3,356.3 L780.0,400.6 L780.2,405.0 L781.4,421.3 L781.9,428.2 L783.3,439.0 L784.4,448.4 L784.6,450.1 L786.9,470.1 L787.1,470.9 L787.7,473.0 L788.6,476.2 L790.0,469.9 L790.3,468.9 L790.9,473.7 L791.5,477.8 L791.9,480.4 L792.7,485.2 L795.0,501.8 L797.0,512.8 L799.0,517.6 L800.0,520.3 L801.7,525.2 L803.0,524.7 L805.7,517.3 L806.4,515.5 L809.0,528.4 L809.1,528.5 L812.4,502.6 L814.4,499.6 L815.0,491.3 L815.1,490.1 L815.8,481.3 L816.0,478.4 L816.5,470.5 L817.1,456.2 L817.5,446.6 L819.1,440.2 L819.8,437.7 L821.8,404.8 L822.0,401.8 L823.2,388.3 L823.8,385.5 L824.0,384.6 L825.6,379.1 L826.5,372.5 L827.1,368.2 L827.9,366.6 L829.2,375.6 L830.0,381.4 L830.1,382.1 L831.9,384.5 L832.6,385.4 L833.8,391.6 L833.9,392.4 L835.2,402.3 L836.8,405.9 L837.9,404.4 L838.6,402.1 L839.9,397.8 L841.3,391.3 L841.9,388.6 L844.0,384.8 L845.3,394.0 L846.0,399.0 L846.6,401.3 L848.6,409.2 L851.3,412.2 L852.7,405.2 L854.7,393.2 L855.0,393.7 L856.7,398.8 L858.0,403.6 L860.7,416.1 L862.1,423.8 L862.7,426.9 L864.7,429.1 L865.4,427.7 L867.4,422.2 L868.1,420.5 L870.1,406.6 L870.4,398.7 L871.4,394.4 L872.0,392.2 L872.1,391.9 L873.2,388.9 L873.5,387.2 L873.9,340.2 L874.0,327.3 L874.1,322.7 L874.3,313.7 L874.6,301.6 L875.0,285.1 L875.5,263.9 L875.9,254.2 L876.0,253.2 L876.5,246.5 L877.0,238.8 L877.3,245.0 L877.7,253.3 L878.3,265.2 L878.4,267.1 L878.5,269.0 L879.5,280.9 L880.2,289.1 L880.6,293.9 L881.3,310.7 L882.0,326.5 L882.2,331.3 L882.4,336.2 L883.3,357.6 L883.9,372.0 L884.2,376.9 L884.9,388.4 L885.0,389.1 L886.6,400.5 L886.9,402.8 L887.3,406.0 L887.5,407.5 L888.9,414.3 L890.2,419.3 L891.6,424.9 L892.2,428.3 L894.2,439.6 L896.9,460.4 L898.9,474.1 L899.6,477.7 L900.0,478.6 L901.0,480.7 L901.6,482.1 L903.0,474.9 L904.3,464.7 L905.0,457.9 L905.6,451.4 L907.0,437.4 L907.7,437.1 L910.1,445.6 L910.3,445.7 L913.0,435.9 L915.0,424.2 L916.1,424.7 L917.7,429.4 L918.4,431.5 L920.4,441.3 L921.7,456.3 L922.4,463.8 L923.1,471.4 L923.8,478.1 L924.4,482.4 L925.8,488.9 L926.4,488.2 L927.1,487.3 L929.1,481.6 L931.1,477.8 L931.8,478.9 L933.1,487.7 L934.5,493.9 L935.2,495.0 L936.0,496.2 L936.5,497.8 L938.5,508.1 L939.2,511.1 L940.5,516.7 L941.0,518.7 L942.5,523.8 L945.0,531.0 L945.2,530.9 L947.0,524.6 L947.2,524.6 L947.2,584.2Z" fill="#3B8072"/>
<path d="M604.0,584.2 L604.0,566.9 L604.8,564.7 L608.0,561.5 L610.5,558.5 L612.4,556.1 L618.0,563.1 L620.0,559.0 L620.6,557.8 L621.2,556.5 L623.7,553.2 L628.1,550.3 L629.4,549.6 L631.9,548.3 L633.1,545.5 L634.0,543.4 L635.6,547.1 L636.3,551.7 L637.5,556.0 L638.2,556.2 L638.8,556.3 L643.2,557.7 L643.8,557.2 L645.0,554.7 L646.3,551.8 L647.0,550.3 L648.8,544.9 L650.0,539.1 L651.3,532.4 L651.9,529.3 L653.2,519.3 L653.3,518.7 L654.4,508.7 L655.1,505.0 L655.7,501.7 L657.6,493.3 L658.0,492.1 L658.6,490.6 L661.3,501.5 L663.9,507.7 L665.1,510.6 L665.7,511.3 L668.3,506.1 L668.9,507.7 L670.1,514.5 L670.8,518.5 L672.0,525.9 L675.2,534.1 L676.4,537.1 L680.2,545.4 L682.7,535.1 L684.0,526.9 L685.2,515.8 L686.9,498.8 L687.1,498.5 L688.8,517.4 L689.6,526.1 L690.0,528.2 L690.3,529.7 L692.8,532.0 L695.3,534.7 L697.2,536.8 L700.3,535.9 L701.0,535.3 L702.8,536.1 L707.9,529.4 L709.1,527.7 L712.9,522.6 L713.5,521.5 L714.8,532.5 L716.0,542.6 L719.8,543.6 L720.4,544.3 L726.7,551.3 L731.8,543.0 L733.0,540.6 L734.9,537.3 L737.4,537.4 L740.6,529.4 L743.1,523.9 L743.7,522.2 L745.0,523.2 L745.6,522.8 L746.8,513.2 L747.5,505.7 L748.7,485.8 L749.4,473.7 L750.0,462.4 L750.6,454.1 L751.0,450.2 L751.2,448.3 L753.1,437.4 L754.4,453.0 L755.9,467.2 L757.5,466.1 L758.2,463.1 L759.3,459.7 L761.9,458.3 L762.6,458.0 L764.3,438.7 L765.7,406.1 L766.0,399.0 L766.8,380.5 L767.6,396.3 L768.8,439.0 L769.5,453.1 L770.2,467.5 L771.0,468.4 L771.8,472.1 L772.0,467.8 L773.5,433.4 L774.5,417.3 L775.1,408.1 L775.2,406.6 L777.0,371.6 L777.7,353.7 L778.0,356.1 L778.3,364.0 L780.0,408.5 L780.2,412.7 L781.4,428.9 L781.9,435.6 L783.3,446.6 L784.4,456.0 L784.6,457.7 L786.9,477.3 L787.1,478.1 L787.7,480.4 L788.6,483.8 L790.0,479.8 L790.3,479.1 L790.9,483.4 L791.5,486.8 L791.9,489.0 L792.7,493.0 L795.0,506.6 L797.0,516.7 L799.0,521.6 L800.0,524.3 L801.7,529.4 L803.0,529.7 L805.7,522.9 L806.4,521.1 L809.0,532.3 L809.1,532.3 L812.4,508.4 L814.4,503.2 L815.0,495.8 L815.1,494.7 L815.8,487.2 L816.0,484.7 L816.5,477.8 L817.1,464.6 L817.5,455.7 L819.1,445.4 L819.8,441.4 L821.8,409.0 L822.0,406.0 L823.2,392.9 L823.8,389.7 L824.0,388.7 L825.6,382.2 L826.5,375.7 L827.1,371.3 L827.9,370.2 L829.2,378.5 L830.0,383.7 L830.1,384.4 L831.9,387.1 L832.6,388.2 L833.8,394.1 L833.9,394.9 L835.2,404.8 L836.8,408.3 L837.9,407.2 L838.6,405.0 L839.9,401.0 L841.3,395.0 L841.9,392.4 L844.0,389.8 L845.3,398.5 L846.0,403.2 L846.6,405.5 L848.6,413.2 L851.3,415.5 L852.7,409.1 L854.7,398.4 L855.0,398.8 L856.7,403.7 L858.0,408.3 L860.7,420.2 L862.1,427.5 L862.7,430.5 L864.7,433.4 L865.4,432.1 L867.4,427.1 L868.1,425.6 L870.1,412.4 L870.4,405.9 L871.4,401.5 L872.0,399.3 L872.1,398.9 L873.2,395.2 L873.5,393.5 L873.9,344.4 L874.0,331.3 L874.1,326.9 L874.3,318.3 L874.6,306.4 L875.0,290.0 L875.5,269.0 L875.9,259.6 L876.0,258.3 L876.5,250.6 L877.0,242.3 L877.3,248.5 L877.7,256.8 L878.3,268.8 L878.4,270.8 L878.5,272.7 L879.5,284.1 L880.2,292.2 L880.6,296.9 L881.3,313.9 L882.0,330.2 L882.2,335.2 L882.4,340.2 L883.3,362.3 L883.9,377.0 L884.2,382.0 L884.9,393.6 L885.0,394.4 L886.6,405.4 L886.9,407.7 L887.3,410.7 L887.5,412.2 L888.9,418.3 L890.2,423.1 L891.6,428.3 L892.2,431.6 L894.2,442.7 L896.9,462.9 L898.9,476.4 L899.6,480.2 L900.0,481.1 L901.0,483.3 L901.6,484.8 L903.0,477.0 L904.3,467.0 L905.0,460.3 L905.6,454.0 L907.0,440.1 L907.7,440.3 L910.1,448.4 L910.3,448.6 L913.0,439.5 L915.0,428.0 L916.1,429.0 L917.7,433.6 L918.4,435.7 L920.4,446.0 L921.7,459.4 L922.4,466.6 L923.1,473.8 L923.8,480.3 L924.4,484.4 L925.8,491.1 L926.4,490.2 L927.1,489.1 L929.1,483.6 L931.1,480.1 L931.8,480.9 L933.1,489.4 L934.5,496.0 L935.2,497.1 L936.0,498.5 L936.5,500.1 L938.5,509.9 L939.2,512.9 L940.5,518.4 L941.0,520.4 L942.5,525.4 L945.0,532.8 L945.2,532.7 L947.0,527.3 L947.2,527.3 L947.2,584.2Z" fill="#5FBDA0"/>
<path d="M790.0,584.2 L790.0,514.3 L790.3,514.5 L790.9,516.8 L791.5,517.6 L791.9,518.1 L792.7,519.0 L795.0,522.5 L797.0,528.9 L799.0,533.7 L800.0,536.5 L801.7,541.6 L803.0,544.2 L805.7,538.2 L806.4,536.6 L809.0,542.5 L809.1,542.1 L812.4,522.3 L814.4,511.5 L815.0,506.2 L815.1,505.5 L815.8,500.4 L816.0,498.8 L816.5,494.5 L817.1,484.2 L817.5,477.3 L819.1,458.9 L819.8,451.2 L821.8,421.0 L822.0,418.1 L823.2,407.0 L823.8,402.8 L824.0,401.4 L825.6,392.6 L826.5,386.4 L827.1,382.4 L827.9,383.4 L829.2,389.3 L830.0,393.0 L830.1,393.5 L831.9,397.8 L832.6,399.5 L833.8,404.2 L833.9,405.0 L835.2,414.9 L836.8,418.2 L837.9,418.8 L838.6,417.2 L839.9,414.1 L841.3,410.0 L841.9,408.3 L844.0,411.1 L845.3,417.5 L846.0,421.0 L846.6,423.2 L848.6,430.6 L851.3,430.1 L852.7,426.2 L854.7,421.0 L855.0,421.1 L856.7,423.8 L858.0,427.2 L860.7,435.1 L862.1,440.1 L862.7,442.2 L864.7,446.2 L865.4,444.7 L867.4,440.1 L868.1,438.6 L870.1,425.4 L870.4,422.1 L871.4,416.3 L872.0,413.3 L872.0,584.2Z" fill="#F1C338"/>
<path d="M690.0,584.2 L690.0,542.4 L690.3,543.1 L692.8,548.8 L695.3,550.0 L697.2,550.9 L700.3,552.2 L701.0,551.8 L702.8,550.9 L707.9,547.9 L709.1,547.0 L712.9,544.0 L713.5,543.6 L714.8,548.5 L716.0,553.2 L719.8,555.1 L720.4,555.4 L726.7,559.4 L731.8,554.6 L733.0,553.4 L734.9,552.5 L737.4,551.9 L740.6,549.9 L743.1,548.3 L743.7,547.3 L745.0,545.9 L745.6,545.2 L746.8,542.4 L747.5,537.5 L748.7,528.1 L749.4,522.5 L750.0,517.3 L750.6,512.1 L751.0,508.9 L751.2,507.3 L753.1,506.9 L754.4,510.8 L755.9,510.2 L757.5,506.3 L758.2,505.4 L759.3,506.7 L761.9,511.1 L762.6,512.4 L764.3,513.6 L765.7,514.0 L766.0,514.6 L766.8,516.6 L767.6,517.7 L768.8,521.8 L769.5,523.7 L770.2,525.8 L771.0,526.7 L771.8,529.2 L772.0,529.3 L773.5,518.4 L774.5,512.3 L775.1,508.6 L775.2,508.0 L777.0,497.9 L777.7,483.2 L778.0,475.1 L778.3,477.9 L780.0,494.9 L780.2,495.1 L781.4,496.5 L781.9,497.3 L783.3,499.2 L784.4,502.4 L784.6,503.1 L786.9,510.9 L787.1,511.5 L787.7,512.6 L788.6,514.3 L790.0,514.3 L790.3,514.7 L790.9,517.3 L791.5,518.4 L791.9,519.0 L792.7,520.2 L795.0,523.9 L797.0,530.5 L799.0,535.8 L800.0,538.9 L801.7,544.1 L803.0,547.3 L805.7,541.6 L806.4,540.1 L809.0,544.9 L809.1,544.4 L812.4,525.9 L814.4,513.8 L815.0,509.1 L815.1,508.4 L815.8,504.0 L816.0,502.7 L816.5,499.3 L817.1,489.8 L817.5,483.5 L819.1,463.0 L819.8,454.2 L821.8,424.9 L822.0,422.1 L823.2,411.7 L823.8,407.2 L824.0,405.7 L825.6,396.2 L826.5,390.3 L827.1,386.3 L827.9,388.2 L829.2,393.3 L830.0,396.5 L830.1,396.9 L831.9,401.9 L832.6,403.9 L833.8,408.1 L833.9,408.9 L835.2,418.8 L836.8,422.0 L837.9,423.5 L838.6,422.1 L839.9,419.4 L841.3,416.2 L841.9,414.9 L844.0,420.0 L845.3,425.5 L846.0,428.5 L846.6,430.7 L848.6,438.1 L851.3,436.5 L852.7,433.9 L854.7,431.2 L855.0,431.3 L856.7,432.5 L858.0,435.0 L860.7,440.6 L862.1,444.4 L862.7,446.1 L864.7,449.8 L865.4,448.1 L867.4,442.7 L868.1,440.9 L870.1,426.6 L870.4,423.4 L871.4,416.8 L872.0,413.3 L872.1,412.8 L873.2,406.4 L873.5,404.5 L873.9,351.4 L874.0,337.9 L874.1,333.8 L874.3,325.6 L874.6,313.6 L875.0,297.4 L875.5,277.0 L875.9,268.5 L876.0,266.6 L876.5,257.4 L877.0,247.9 L877.3,254.0 L877.7,262.1 L878.3,274.2 L878.4,276.2 L878.5,278.2 L879.5,289.7 L880.2,297.7 L880.6,302.3 L881.3,320.1 L882.0,337.7 L882.2,343.0 L882.4,348.2 L883.3,371.7 L883.9,387.4 L884.2,392.5 L884.9,404.5 L885.0,405.2 L886.6,415.9 L886.9,417.9 L887.3,420.7 L887.5,422.0 L888.9,426.9 L890.2,431.3 L891.6,436.0 L892.2,439.1 L894.2,449.6 L896.9,468.7 L898.9,481.8 L899.6,486.1 L900.0,487.1 L901.0,489.6 L901.6,491.1 L903.0,481.9 L904.3,472.6 L905.0,465.9 L905.6,460.1 L907.0,446.6 L907.7,448.1 L910.1,455.2 L910.3,455.7 L913.0,448.1 L915.0,437.0 L916.1,439.3 L917.7,443.8 L918.4,445.7 L920.4,457.2 L921.7,467.0 L922.4,473.3 L923.1,479.6 L923.8,485.6 L924.4,489.1 L925.8,496.3 L926.4,495.0 L927.1,493.6 L929.1,488.4 L931.1,485.9 L931.8,485.7 L933.1,493.5 L934.5,501.0 L935.2,502.3 L936.0,503.8 L936.5,505.6 L938.5,514.3 L939.2,517.1 L940.5,522.4 L941.0,524.4 L942.5,529.4 L945.0,537.1 L945.2,537.0 L947.0,533.7 L947.2,533.7 L947.2,584.2Z" fill="#B294B4"/>
<path d="M149.0,584.2 L149.0,584.2 L152.6,583.4 L156.0,582.4 L161.4,581.3 L167.7,580.1 L170.2,574.4 L172.7,576.3 L175.2,575.1 L177.8,578.3 L185.3,580.1 L189.1,579.6 L191.3,577.3 L194.1,579.7 L199.1,578.4 L207.9,578.8 L212.9,575.6 L216.0,571.3 L216.7,570.3 L218.0,566.7 L219.9,567.8 L225.5,567.7 L233.0,564.7 L236.6,560.1 L238.7,563.8 L241.2,564.9 L244.4,567.9 L245.0,568.0 L248.1,565.9 L250.0,565.0 L251.3,565.1 L251.9,564.1 L252.5,564.0 L253.0,564.0 L254.4,561.6 L256.9,558.1 L257.6,557.0 L260.1,547.1 L261.3,542.3 L262.0,539.5 L262.6,537.1 L263.9,525.8 L265.5,511.5 L266.4,503.5 L267.0,501.1 L267.9,497.6 L268.0,497.2 L268.0,584.2Z" fill="#C46BD0"/>
<path d="M400.0,584.2 L400.0,546.3 L401.3,532.6 L402.0,515.8 L402.6,505.7 L403.6,479.9 L404.6,506.0 L405.0,523.4 L405.1,528.0 L405.5,534.8 L406.4,548.6 L407.6,551.5 L410.0,557.1 L410.0,584.2Z M596.0,584.2 L596.0,572.6 L597.3,569.7 L598.0,560.4 L598.6,553.3 L599.6,545.7 L600.4,550.8 L601.1,555.2 L601.5,558.5 L602.7,569.4 L604.0,566.9 L604.0,584.2Z" fill="#C656A0"/>
<path d="M135.7,584.2 L135.7,584.2 L149.0,584.2 L152.6,583.6 L156.0,582.7 L161.4,581.6 L167.7,580.4 L170.2,574.8 L172.7,576.7 L175.2,575.5 L177.8,578.6 L185.3,580.4 L189.1,579.9 L191.3,577.6 L194.1,580.0 L199.1,578.8 L207.9,579.2 L212.9,576.0 L216.0,571.9 L216.7,571.0 L218.0,568.0 L219.9,568.5 L225.5,570.0 L233.0,567.0 L236.6,563.0 L238.7,565.1 L241.2,567.5 L244.4,569.9 L245.0,570.4 L248.1,568.3 L250.0,567.1 L251.3,566.2 L251.9,565.8 L252.5,565.4 L253.0,564.7 L254.4,562.6 L256.9,559.0 L257.6,558.0 L260.1,548.0 L261.3,543.2 L262.0,540.4 L262.6,538.0 L263.9,526.3 L265.5,511.9 L266.4,503.8 L267.0,501.3 L267.9,497.6 L268.0,497.2 L268.3,496.0 L269.5,504.0 L270.1,508.0 L270.5,510.6 L270.8,512.6 L271.5,527.2 L272.0,537.7 L272.7,542.8 L273.3,547.2 L273.9,551.6 L276.0,555.2 L276.4,555.9 L277.7,558.1 L278.3,559.1 L281.5,555.3 L285.2,560.0 L286.5,561.6 L290.3,562.9 L291.5,561.1 L295.0,555.8 L295.3,555.3 L300.3,552.2 L305.4,550.5 L306.6,550.1 L307.9,549.7 L310.0,546.0 L310.4,545.3 L313.5,556.0 L316.0,548.4 L319.2,557.2 L320.4,555.0 L323.0,550.3 L325.5,544.4 L326.7,541.5 L328.0,538.5 L329.2,535.7 L329.5,535.0 L330.5,532.7 L331.8,529.8 L333.0,527.0 L334.3,524.1 L335.5,521.4 L337.0,518.4 L338.0,516.4 L340.0,512.5 L340.6,511.3 L342.1,508.1 L342.4,507.5 L344.0,516.3 L345.6,525.1 L349.4,539.0 L350.6,541.9 L353.1,547.8 L355.6,541.5 L358.2,546.5 L358.8,543.9 L361.9,530.2 L364.5,541.5 L365.1,543.9 L365.7,546.3 L367.0,551.6 L368.9,548.7 L369.5,547.8 L371.4,550.3 L374.5,542.8 L375.8,546.0 L379.5,555.3 L383.3,553.4 L384.6,552.8 L388.0,547.0 L388.3,546.5 L390.0,549.6 L391.3,552.0 L395.1,558.0 L399.5,548.0 L400.0,546.3 L401.3,542.0 L402.0,539.9 L402.6,538.0 L403.6,535.0 L404.6,540.3 L405.0,542.4 L405.1,542.9 L405.5,545.0 L406.4,552.0 L407.6,553.7 L410.0,557.1 L412.0,560.0 L414.5,550.0 L416.4,530.0 L417.7,543.7 L418.3,550.0 L420.2,561.0 L424.6,566.5 L430.9,556.0 L435.3,563.0 L435.9,564.0 L439.7,559.0 L444.1,563.0 L450.4,564.0 L455.4,568.5 L460.4,571.1 L463.0,572.5 L465.5,567.0 L467.4,562.0 L470.5,560.0 L471.8,534.0 L472.4,522.0 L474.5,562.0 L476.8,563.3 L478.0,564.0 L482.4,574.0 L485.3,568.0 L488.1,575.0 L493.1,576.0 L496.3,564.5 L498.2,564.2 L501.9,563.5 L505.7,559.6 L509.2,556.0 L514.0,564.2 L514.5,565.0 L516.4,545.0 L518.0,535.0 L520.8,546.0 L523.3,558.0 L525.0,560.4 L528.1,567.9 L532.5,561.4 L533.2,560.4 L536.3,562.9 L539.5,556.6 L540.1,557.2 L542.0,559.1 L544.5,566.6 L546.4,563.8 L546.6,563.5 L549.5,567.9 L551.4,567.3 L552.0,567.1 L555.2,566.0 L558.3,564.8 L562.7,568.0 L563.4,568.5 L568.1,561.6 L570.9,570.4 L575.3,569.3 L578.4,568.5 L581.6,570.2 L586.6,572.9 L589.1,573.4 L593.5,574.2 L596.0,572.6 L597.3,571.7 L598.0,568.1 L598.6,565.1 L599.6,560.0 L600.4,562.7 L601.1,565.0 L601.5,566.4 L602.7,570.4 L604.0,566.9 L604.8,564.8 L608.0,561.9 L610.5,559.5 L612.4,557.8 L618.0,564.1 L620.0,561.8 L620.6,561.1 L621.2,560.4 L623.7,559.5 L628.1,557.8 L629.4,556.5 L631.9,554.0 L633.1,552.8 L634.0,551.9 L635.6,550.3 L636.3,554.5 L637.5,561.6 L638.2,561.9 L638.8,562.2 L643.2,564.1 L643.8,563.1 L645.0,561.1 L646.3,559.0 L647.0,557.8 L648.8,551.8 L650.0,547.8 L651.3,542.8 L651.9,540.5 L653.2,535.6 L653.3,535.2 L654.4,525.1 L655.1,524.3 L655.7,523.6 L657.6,521.4 L658.0,522.2 L658.6,523.4 L661.3,528.9 L663.9,530.6 L665.1,531.4 L665.7,530.3 L668.3,525.6 L668.9,524.5 L670.1,530.1 L670.8,533.4 L672.0,539.0 L675.2,547.2 L676.4,550.3 L680.2,558.5 L682.7,547.3 L684.0,541.5 L685.2,529.3 L686.9,512.0 L687.1,510.0 L688.8,531.4 L689.6,541.5 L690.0,542.4 L690.3,543.1 L692.8,549.0 L695.3,550.3 L697.2,551.2 L700.3,552.8 L701.0,552.4 L702.8,551.5 L707.9,549.0 L709.1,548.2 L712.9,545.7 L713.5,545.3 L714.8,549.9 L716.0,554.1 L719.8,556.3 L720.4,556.6 L726.7,560.4 L731.8,556.3 L733.0,555.3 L734.9,554.8 L737.4,554.2 L740.6,553.4 L743.1,552.8 L743.7,552.0 L745.0,550.2 L745.6,549.4 L746.8,547.8 L747.5,543.4 L748.7,535.8 L749.4,531.4 L750.0,527.2 L750.6,523.1 L751.0,520.3 L751.2,518.9 L753.1,522.6 L754.4,525.1 L755.9,522.1 L757.5,519.0 L758.2,517.6 L759.3,518.3 L761.9,520.1 L762.6,520.7 L764.3,522.1 L765.7,523.3 L766.0,523.9 L766.8,525.6 L767.6,527.3 L768.8,529.9 L769.5,531.4 L770.2,532.8 L771.0,534.5 L771.8,536.1 L772.0,536.5 L773.5,525.9 L774.5,518.9 L775.1,514.4 L775.2,513.6 L777.0,500.0 L777.7,483.2 L778.0,476.0 L778.3,479.6 L780.0,500.0 L780.2,500.5 L781.4,503.2 L781.9,504.3 L783.3,507.5 L784.4,511.5 L784.6,512.3 L786.9,520.7 L787.1,521.4 L787.7,523.0 L788.6,525.3 L790.0,529.0 L790.3,529.8 L790.9,531.4 L791.5,531.2 L791.9,531.1 L792.7,530.8 L795.0,530.0 L797.0,535.0 L799.0,540.0 L800.0,543.0 L801.7,548.1 L803.0,552.0 L805.7,546.4 L806.4,545.0 L809.0,548.0 L809.1,547.5 L812.4,530.0 L814.4,516.2 L815.0,512.0 L815.1,511.5 L815.8,507.7 L816.0,506.7 L816.5,504.0 L817.1,495.5 L817.5,489.8 L819.1,467.1 L819.8,457.2 L821.8,428.8 L822.0,426.0 L823.2,416.4 L823.8,411.6 L824.0,410.0 L825.6,399.8 L826.5,394.1 L827.1,390.3 L827.9,393.0 L829.2,397.3 L830.0,400.0 L830.1,400.3 L831.9,406.0 L832.6,408.2 L833.8,412.0 L833.9,412.8 L835.2,422.8 L836.8,425.9 L837.9,428.1 L838.6,426.9 L839.9,424.8 L841.3,422.4 L841.9,421.4 L844.0,428.9 L845.3,433.5 L846.0,436.1 L846.6,438.3 L848.6,445.6 L851.3,442.9 L852.7,441.5 L854.7,441.5 L855.0,441.5 L856.7,441.5 L858.0,443.3 L860.7,446.9 L862.1,449.7 L862.7,450.9 L864.7,454.9 L865.4,453.0 L867.4,447.5 L868.1,445.6 L870.1,430.9 L870.4,428.7 L871.4,421.4 L872.0,417.6 L872.1,416.9 L873.2,409.9 L873.5,408.0 L873.9,353.6 L874.0,340.0 L874.1,336.0 L874.3,328.0 L874.6,316.0 L875.0,300.0 L875.5,280.0 L875.9,272.0 L876.0,270.0 L876.5,260.0 L877.0,250.0 L877.3,256.0 L877.7,264.0 L878.3,276.0 L878.4,278.0 L878.5,280.0 L879.5,291.4 L880.2,299.4 L880.6,304.0 L881.3,322.0 L882.0,340.0 L882.2,345.3 L882.4,350.7 L883.3,374.6 L883.9,390.6 L884.2,395.8 L884.9,408.0 L885.0,408.7 L886.6,419.4 L886.9,421.4 L887.3,424.1 L887.5,425.4 L888.9,430.0 L890.2,434.2 L891.6,438.8 L892.2,441.9 L894.2,452.3 L896.9,471.0 L898.9,484.0 L899.6,488.5 L900.0,489.6 L901.0,492.2 L901.6,493.8 L903.0,484.1 L904.3,475.0 L905.0,468.4 L905.6,462.8 L907.0,449.6 L907.7,451.6 L910.1,458.4 L910.3,459.0 L913.0,452.3 L915.0,441.5 L916.1,444.5 L917.7,449.0 L918.4,450.9 L920.4,463.1 L921.7,471.0 L922.4,476.8 L923.1,482.7 L923.8,488.5 L924.4,491.7 L925.8,499.2 L926.4,497.7 L927.1,496.0 L929.1,491.2 L931.1,489.2 L931.8,488.5 L933.1,496.0 L934.5,504.0 L935.2,505.4 L936.0,507.0 L936.5,509.0 L938.5,517.0 L939.2,519.8 L940.5,525.0 L941.0,527.0 L942.5,531.9 L945.0,540.0 L945.2,539.8 L947.0,538.0 L947.2,538.0 L947.2,584.2Z" fill="#E633B4"/>
<path d="M135.7,584.2 L135.7,584.2 L149.0,584.2 L152.6,584.2 L156.0,584.2 L161.4,584.2 L167.7,584.2 L170.2,584.2 L172.7,584.2 L175.2,584.2 L177.8,584.2 L185.3,584.2 L189.1,584.2 L191.3,584.2 L194.1,584.2 L199.1,584.2 L207.9,584.2 L212.9,584.2 L216.0,584.2 L216.7,584.2 L218.0,584.2 L219.9,584.2 L225.5,584.2 L233.0,584.2 L236.6,584.2 L238.7,584.2 L241.2,584.2 L244.4,584.2 L245.0,584.2 L248.1,584.2 L250.0,584.2 L251.3,584.2 L251.9,584.2 L252.5,584.2 L253.0,584.2 L254.4,584.2 L256.9,584.2 L257.6,581.5 L260.1,571.7 L261.3,568.1 L262.0,566.0 L262.6,564.3 L263.9,560.4 L265.5,556.1 L266.4,553.7 L267.0,552.1 L267.9,549.7 L268.0,550.2 L268.3,551.6 L269.5,557.5 L270.1,560.4 L270.5,562.1 L270.8,563.4 L271.5,566.4 L272.0,568.6 L272.7,571.6 L273.3,574.2 L273.9,574.6 L276.0,576.1 L276.4,576.4 L277.7,577.3 L278.3,577.5 L281.5,578.3 L285.2,579.2 L286.5,579.0 L290.3,578.6 L291.5,578.5 L295.0,578.0 L295.3,578.0 L300.3,576.7 L305.4,572.9 L306.6,573.5 L307.9,574.1 L310.0,575.2 L310.4,575.4 L313.5,575.6 L316.0,575.8 L319.2,576.0 L320.4,576.1 L323.0,574.8 L325.5,573.6 L326.7,572.4 L328.0,571.0 L329.2,569.8 L329.5,569.3 L330.5,567.6 L331.8,565.5 L333.0,563.5 L334.3,563.1 L335.5,562.7 L337.0,562.2 L338.0,561.9 L340.0,562.4 L340.6,562.5 L342.1,562.8 L342.4,562.9 L344.0,566.6 L345.6,570.4 L349.4,573.3 L350.6,574.2 L353.1,574.6 L355.6,575.0 L358.2,575.4 L358.8,575.6 L361.9,576.7 L364.5,577.6 L365.1,577.8 L365.7,578.0 L367.0,578.0 L368.9,578.0 L369.5,578.0 L371.4,578.0 L374.5,578.0 L375.8,578.0 L379.5,578.3 L383.3,578.6 L384.6,578.2 L388.0,577.3 L388.3,577.2 L390.0,576.7 L391.3,576.9 L395.1,577.7 L399.5,578.5 L400.0,578.6 L401.3,577.0 L402.0,576.2 L402.6,575.4 L403.6,574.2 L404.6,575.5 L405.0,576.0 L405.1,576.1 L405.5,576.6 L406.4,577.7 L407.6,579.2 L410.0,579.7 L412.0,580.0 L414.5,580.5 L416.4,580.9 L417.7,581.1 L418.3,581.1 L420.2,581.3 L424.6,581.6 L430.9,582.1 L435.3,582.4 L435.9,582.4 L439.7,582.5 L444.1,582.5 L450.4,582.6 L455.4,582.6 L460.4,582.7 L463.0,582.2 L465.5,581.7 L467.4,581.3 L470.5,580.8 L471.8,580.5 L472.4,580.8 L474.5,581.7 L476.8,582.7 L478.0,582.7 L482.4,582.8 L485.3,582.8 L488.1,582.9 L493.1,582.9 L496.3,583.0 L498.2,583.0 L501.9,582.4 L505.7,581.7 L509.2,581.8 L514.0,582.0 L514.5,582.1 L516.4,582.1 L518.0,582.2 L520.8,582.3 L523.3,582.4 L525.0,582.0 L528.1,581.4 L532.5,580.5 L533.2,580.3 L536.3,579.4 L539.5,578.4 L540.1,578.2 L542.0,578.1 L544.5,578.1 L546.4,578.0 L546.6,578.1 L549.5,579.5 L551.4,580.5 L552.0,580.6 L555.2,580.9 L558.3,581.2 L562.7,581.7 L563.4,581.7 L568.1,581.8 L570.9,581.9 L575.3,581.9 L578.4,582.0 L581.6,582.1 L586.6,582.1 L589.1,582.2 L593.5,582.3 L596.0,582.3 L597.3,582.3 L598.0,582.4 L598.6,582.4 L599.6,582.4 L600.4,582.4 L601.1,582.3 L601.5,582.2 L602.7,582.0 L604.0,581.7 L604.8,581.6 L608.0,581.0 L610.5,580.5 L612.4,580.4 L618.0,580.0 L620.0,579.8 L620.6,579.8 L621.2,579.7 L623.7,579.2 L628.1,578.3 L629.4,578.0 L631.9,578.5 L633.1,578.8 L634.0,578.9 L635.6,579.3 L636.3,579.4 L637.5,579.7 L638.2,579.8 L638.8,579.7 L643.2,579.4 L643.8,579.3 L645.0,579.2 L646.3,578.4 L647.0,578.0 L648.8,576.9 L650.0,576.2 L651.3,575.4 L651.9,574.5 L653.2,572.6 L653.3,572.5 L654.4,570.8 L655.1,569.8 L655.7,568.9 L657.6,566.0 L658.0,566.2 L658.6,566.4 L661.3,567.5 L663.9,568.5 L665.1,569.1 L665.7,569.4 L668.3,570.8 L668.9,571.1 L670.1,571.7 L670.8,572.3 L672.0,573.3 L675.2,576.1 L676.4,576.0 L680.2,575.8 L682.7,575.6 L684.0,575.5 L685.2,575.4 L686.9,575.6 L687.1,575.6 L688.8,575.9 L689.6,576.0 L690.0,576.0 L690.3,576.1 L692.8,576.4 L695.3,576.7 L697.2,576.7 L700.3,576.7 L701.0,576.7 L702.8,576.7 L707.9,576.7 L709.1,576.6 L712.9,576.5 L713.5,576.4 L714.8,576.4 L716.0,576.3 L719.8,576.1 L720.4,576.1 L726.7,578.0 L731.8,576.5 L733.0,576.1 L734.9,576.0 L737.4,575.9 L740.6,575.7 L743.1,575.5 L743.7,575.5 L745.0,575.4 L745.6,575.4 L746.8,574.4 L747.5,573.9 L748.7,572.9 L749.4,570.6 L750.0,568.7 L750.6,566.7 L751.0,565.4 L751.2,565.9 L753.1,570.4 L754.4,569.8 L755.9,569.0 L757.5,568.2 L758.2,567.9 L759.3,567.0 L761.9,564.7 L762.6,564.1 L764.3,565.0 L765.7,565.8 L766.0,566.0 L766.8,566.4 L767.6,566.9 L768.8,567.5 L769.5,567.9 L770.2,568.4 L771.0,569.0 L771.8,569.6 L772.0,569.8 L773.5,562.2 L774.5,557.1 L775.1,554.1 L775.2,553.6 L777.0,545.1 L777.7,541.8 L778.0,540.4 L778.3,539.0 L780.0,545.2 L780.2,545.9 L781.4,550.3 L781.9,549.1 L783.3,545.8 L784.4,543.3 L784.6,542.8 L786.9,552.1 L787.1,552.9 L787.7,555.3 L788.6,557.7 L790.0,561.4 L790.3,562.2 L790.9,563.8 L791.5,565.4 L791.9,565.4 L792.7,565.5 L795.0,565.7 L797.0,564.4 L799.0,563.0 L800.0,566.0 L801.7,571.1 L803.0,572.0 L805.7,573.8 L806.4,573.6 L809.0,572.9 L809.1,572.8 L812.4,571.9 L814.4,571.3 L815.0,571.1 L815.1,571.1 L815.8,567.4 L816.0,566.3 L816.5,563.6 L817.1,560.4 L817.5,555.0 L819.1,533.5 L819.8,525.9 L821.8,504.0 L822.0,501.1 L823.2,483.7 L823.8,475.0 L824.0,473.2 L825.6,458.9 L826.5,450.9 L827.1,453.3 L827.9,456.4 L829.2,461.6 L830.0,463.6 L830.1,463.9 L831.9,468.4 L832.6,466.0 L833.8,461.9 L833.9,461.6 L835.2,460.1 L836.8,458.3 L837.9,457.1 L838.6,456.3 L839.9,460.8 L841.3,465.7 L841.9,469.0 L844.0,480.4 L845.3,487.1 L846.0,490.7 L846.6,493.8 L848.6,496.7 L851.3,500.5 L852.7,503.1 L854.7,506.9 L855.0,507.5 L856.7,510.7 L858.0,508.6 L860.7,504.2 L862.1,501.9 L862.7,501.0 L864.7,497.9 L865.4,496.9 L867.4,493.8 L868.1,488.3 L870.1,472.4 L870.4,468.8 L871.4,456.7 L872.0,449.4 L872.1,448.2 L873.2,433.5 L873.5,429.4 L873.9,424.1 L874.0,422.7 L874.1,421.4 L874.3,419.5 L874.6,416.6 L875.0,412.8 L875.5,408.0 L875.9,392.8 L876.0,389.0 L876.5,370.0 L877.0,348.1 L877.3,335.0 L877.7,349.0 L878.3,370.0 L878.4,372.0 L878.5,374.0 L879.5,394.0 L880.2,408.0 L880.6,414.7 L881.3,426.4 L882.0,438.1 L882.2,441.5 L882.4,443.5 L883.3,452.6 L883.9,458.6 L884.2,461.6 L884.9,466.5 L885.0,467.2 L886.6,478.3 L886.9,480.4 L887.3,479.7 L887.5,479.4 L888.9,477.1 L890.2,475.0 L891.6,484.4 L892.2,488.5 L894.2,504.0 L896.9,526.8 L898.9,529.4 L899.6,530.4 L900.0,530.9 L901.0,532.2 L901.6,526.6 L903.0,513.4 L904.3,504.0 L905.0,499.7 L905.6,496.0 L907.0,487.4 L907.7,483.1 L910.1,493.0 L910.3,493.8 L913.0,487.1 L915.0,484.4 L916.1,491.6 L917.7,502.0 L918.4,506.3 L920.4,518.5 L921.7,526.5 L922.4,530.8 L923.1,530.1 L923.8,529.4 L924.4,528.8 L925.8,527.4 L926.4,526.8 L927.1,525.8 L929.1,522.8 L931.1,526.3 L931.8,527.5 L933.1,529.8 L934.5,532.2 L935.2,533.6 L936.0,535.2 L936.5,536.2 L938.5,540.2 L939.2,541.6 L940.5,546.3 L941.0,548.1 L942.5,553.6 L945.0,564.8 L945.2,565.7 L947.0,564.5 L947.2,564.4 L947.2,584.2Z" fill="#5B5B9E"/>
</g>
<rect x="135.5" y="583.4" width="811.8" height="1.6" fill="#17172C"/>
</svg>
<div class="legend">
<div class="lg" style="top:62.75px"><span class="lt">All</span><span class="sq" style="background:#595B5F"></span></div>
<div class="lg" style="top:92.47px"><span class="lt">zigzag</span><span class="sq" style="background:#B5E3B5"></span></div>
<div class="lg" style="top:122.18px"><span class="lt">chainhop</span><span class="sq" style="background:#DBDF73"></span></div>
<div class="lg" style="top:151.90px"><span class="lt">platypus_finance</span><span class="sq" style="background:#F17FB1"></span></div>
<div class="lg" style="top:181.61px"><span class="lt">onepunchswap</span><span class="sq" style="background:#A9BCEE"></span></div>
<div class="lg" style="top:211.33px"><span class="lt">saddle_finance</span><span class="sq" style="background:#9BC97D"></span></div>
<div class="lg" style="top:241.05px"><span class="lt">hashflow</span><span class="sq" style="background:#DFC6F0"></span></div>
<div class="lg" style="top:270.76px"><span class="lt">carbonhood</span><span class="sq" style="background:#F09C78"></span></div>
<div class="lg" style="top:300.48px"><span class="lt">mauve</span><span class="sq" style="background:#F5D676"></span></div>
<div class="lg" style="top:330.19px"><span class="lt">opx_finance</span><span class="sq" style="background:#8FD0D8"></span></div>
<div class="lg" style="top:359.91px"><span class="lt">goosefx_ssl</span><span class="sq" style="background:#A3A895"></span></div>
<div class="lg" style="top:389.63px"><span class="lt">swanswap</span><span class="sq" style="background:#B04F95"></span></div>
<div class="lg" style="top:419.34px"><span class="lt">jetswap</span><span class="sq" style="background:#E87365"></span></div>
<div class="lg" style="top:449.06px"><span class="lt">gravity_finance</span><span class="sq" style="background:#7C53A8"></span></div>
<div class="lg" style="top:478.77px"><span class="lt">jojo</span><span class="sq" style="background:#5B9BD5"></span></div>
<div class="lg" style="top:508.49px"><span class="lt">mummy_finance</span><span class="sq" style="background:#E0823C"></span></div>
<div class="lg" style="top:538.21px"><span class="lt">synthetix</span><span class="sq" style="background:#3F8072"></span></div>
<div class="lg" style="top:567.92px"><span class="lt">gmx</span><span class="sq" style="background:#A8D86E"></span></div>
</div>
<div class="pill"><i></i><b></b></div>
<div class="sep"></div>
<div class="foot" style="left:50.1px">Data as of: Apr. 29, 2026</div><div class="foot bar" style="left:221.6px">|</div><div class="foot" style="left:233.2px">Source:</div><div class="foot" style="left:291.6px">Dune</div>
<svg style="position:absolute;left:890px;top:650px" width="270" height="50" viewBox="890 650 270 50">
<path d="M914.8 663.1 A12.6 12.6 0 1 0 927.3 676.0 L921.2 676.0 A6.5 6.5 0 1 1 914.8 669.2 Z" fill="#1169F7"/>
<rect x="915.1" y="669" width="6.7" height="6.6" fill="#1FDC9C"/>
<text x="929.8" y="686.4" font-family="Liberation Sans, sans-serif" font-weight="700" font-size="31" fill="#16181D" stroke="#16181D" stroke-width="0.5" textLength="83.3" lengthAdjust="spacingAndGlyphs">Gate</text>
<text x="1019" y="686" font-family="Liberation Sans, sans-serif" font-size="27" fill="#16181D" textLength="132.5" lengthAdjust="spacingAndGlyphs">Research</text>
</svg>
</body></html>
